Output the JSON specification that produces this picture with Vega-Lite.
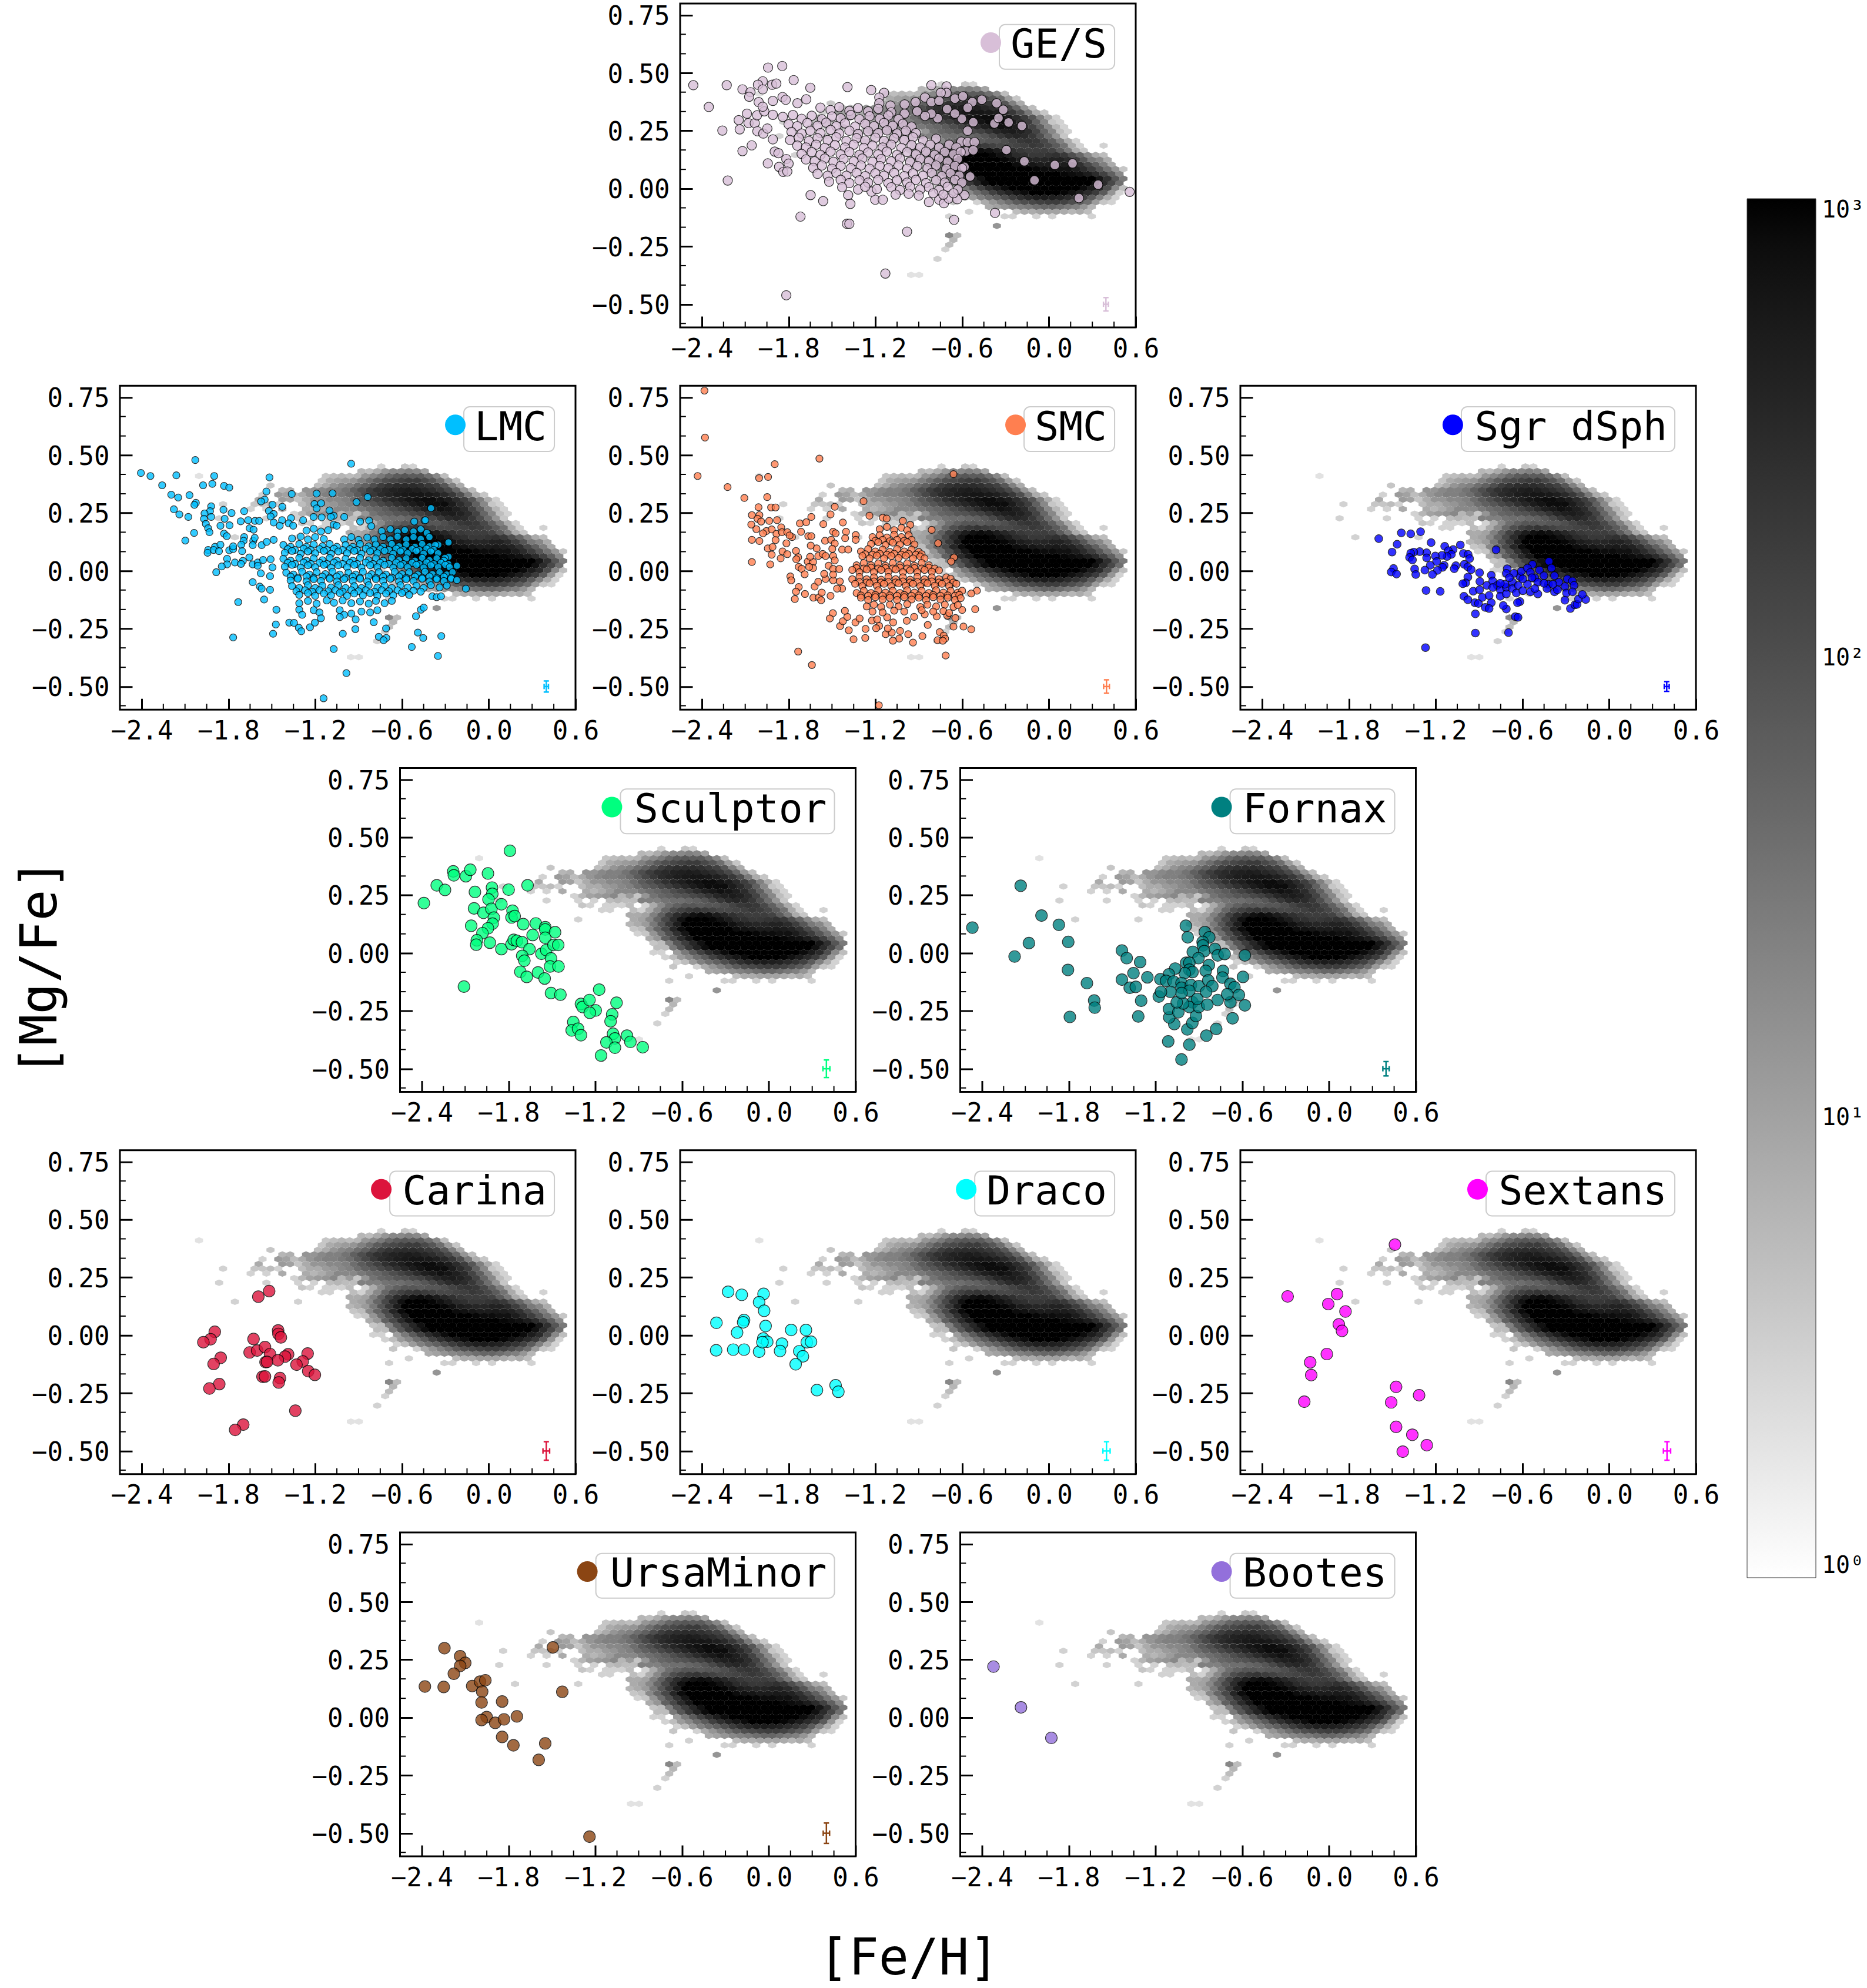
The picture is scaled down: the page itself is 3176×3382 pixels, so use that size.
{"$schema":"https://vega.github.io/schema/vega-lite/v6.json","autosize":{"type":"none"},"padding":{"left":204,"top":6,"right":2972,"bottom":3376},"background":"white","columns":5,"spacing":{"row":99.25,"column":178.5},"bounds":"flush","align":"all",
"config":{"view":{"stroke":null},"axis":{"domain":false,"grid":false,"labelFlush":false,"labelFont":"DejaVu Sans Mono","labelFontSize":44,"labelColor":"black","tickColor":"black","tickWidth":3,"title":null,"titleFont":"DejaVu Sans Mono","titleFontSize":86,"titleFontWeight":"normal"}},
"datasets":{
"mx":[{"v":-2.25},{"v":-2.1},{"v":-1.95},{"v":-1.65},{"v":-1.5},{"v":-1.35},{"v":-1.05},{"v":-0.9},{"v":-0.75},{"v":-0.45},{"v":-0.3},{"v":-0.15},{"v":0.15},{"v":0.3},{"v":0.45}],
"my":[{"v":-0.583},{"v":-0.417},{"v":-0.333},{"v":-0.167},{"v":-0.083},{"v":0.083},{"v":0.167},{"v":0.333},{"v":0.417},{"v":0.583},{"v":0.667}],
"hex":[
{"x":-0.743,"y":0.451,"n":3},{"x":-0.579,"y":0.451,"n":4},{"x":-0.524,"y":0.451,"n":3},
{"x":-0.88,"y":0.431,"n":6},{"x":-0.825,"y":0.431,"n":5},{"x":-0.771,"y":0.431,"n":8},{"x":-0.716,"y":0.431,"n":14},{"x":-0.661,"y":0.431,"n":20},{"x":-0.606,"y":0.431,"n":20},{"x":-0.552,"y":0.431,"n":25},{"x":-0.497,"y":0.431,"n":20},{"x":-0.442,"y":0.431,"n":10},
{"x":-2.003,"y":0.41,"n":2},{"x":-1.126,"y":0.41,"n":4},{"x":-1.072,"y":0.41,"n":5},{"x":-1.017,"y":0.41,"n":6},{"x":-0.962,"y":0.41,"n":5},{"x":-0.907,"y":0.41,"n":6},{"x":-0.853,"y":0.41,"n":14},{"x":-0.798,"y":0.41,"n":20},{"x":-0.743,"y":0.41,"n":30},{"x":-0.689,"y":0.41,"n":50},{"x":-0.634,"y":0.41,"n":70},{"x":-0.579,"y":0.41,"n":80},{"x":-0.524,"y":0.41,"n":70},{"x":-0.47,"y":0.41,"n":70},{"x":-0.415,"y":0.41,"n":40},{"x":-0.36,"y":0.41,"n":20},{"x":-0.306,"y":0.41,"n":5},
{"x":-1.154,"y":0.39,"n":4},{"x":-1.099,"y":0.39,"n":8},{"x":-1.044,"y":0.39,"n":10},{"x":-0.99,"y":0.39,"n":12},{"x":-0.935,"y":0.39,"n":14},{"x":-0.88,"y":0.39,"n":25},{"x":-0.825,"y":0.39,"n":40},{"x":-0.771,"y":0.39,"n":70},{"x":-0.716,"y":0.39,"n":100},{"x":-0.661,"y":0.39,"n":120},{"x":-0.606,"y":0.39,"n":150},{"x":-0.552,"y":0.39,"n":180},{"x":-0.497,"y":0.39,"n":180},{"x":-0.442,"y":0.39,"n":120},{"x":-0.388,"y":0.39,"n":80},{"x":-0.333,"y":0.39,"n":40},{"x":-0.278,"y":0.39,"n":12},{"x":-0.224,"y":0.39,"n":4},
{"x":-1.509,"y":0.369,"n":4},{"x":-1.181,"y":0.369,"n":5},{"x":-1.126,"y":0.369,"n":8},{"x":-1.072,"y":0.369,"n":14},{"x":-1.017,"y":0.369,"n":20},{"x":-0.962,"y":0.369,"n":25},{"x":-0.907,"y":0.369,"n":40},{"x":-0.853,"y":0.369,"n":60},{"x":-0.798,"y":0.369,"n":100},{"x":-0.743,"y":0.369,"n":170},{"x":-0.689,"y":0.369,"n":230},{"x":-0.634,"y":0.369,"n":280},{"x":-0.579,"y":0.369,"n":300},{"x":-0.524,"y":0.369,"n":300},{"x":-0.47,"y":0.369,"n":250},{"x":-0.415,"y":0.369,"n":200},{"x":-0.36,"y":0.369,"n":150},{"x":-0.306,"y":0.369,"n":80},{"x":-0.251,"y":0.369,"n":25},{"x":-0.196,"y":0.369,"n":8},
{"x":-1.427,"y":0.349,"n":6},{"x":-1.373,"y":0.349,"n":7},{"x":-1.263,"y":0.349,"n":14},{"x":-1.208,"y":0.349,"n":14},{"x":-1.154,"y":0.349,"n":20},{"x":-1.099,"y":0.349,"n":25},{"x":-1.044,"y":0.349,"n":25},{"x":-0.99,"y":0.349,"n":35},{"x":-0.935,"y":0.349,"n":60},{"x":-0.88,"y":0.349,"n":100},{"x":-0.825,"y":0.349,"n":170},{"x":-0.771,"y":0.349,"n":250},{"x":-0.716,"y":0.349,"n":320},{"x":-0.661,"y":0.349,"n":400},{"x":-0.606,"y":0.349,"n":450},{"x":-0.552,"y":0.349,"n":500},{"x":-0.497,"y":0.349,"n":450},{"x":-0.442,"y":0.349,"n":350},{"x":-0.388,"y":0.349,"n":280},{"x":-0.333,"y":0.349,"n":200},{"x":-0.278,"y":0.349,"n":120},{"x":-0.224,"y":0.349,"n":50},{"x":-0.169,"y":0.349,"n":14},{"x":-0.114,"y":0.349,"n":5},
{"x":-1.564,"y":0.329,"n":3},{"x":-1.455,"y":0.329,"n":12},{"x":-1.4,"y":0.329,"n":10},{"x":-1.345,"y":0.329,"n":5},{"x":-1.29,"y":0.329,"n":8},{"x":-1.236,"y":0.329,"n":14},{"x":-1.181,"y":0.329,"n":20},{"x":-1.126,"y":0.329,"n":25},{"x":-1.072,"y":0.329,"n":25},{"x":-1.017,"y":0.329,"n":30},{"x":-0.962,"y":0.329,"n":40},{"x":-0.907,"y":0.329,"n":70},{"x":-0.853,"y":0.329,"n":120},{"x":-0.798,"y":0.329,"n":200},{"x":-0.743,"y":0.329,"n":300},{"x":-0.689,"y":0.329,"n":380},{"x":-0.634,"y":0.329,"n":480},{"x":-0.579,"y":0.329,"n":550},{"x":-0.524,"y":0.329,"n":600},{"x":-0.47,"y":0.329,"n":600},{"x":-0.415,"y":0.329,"n":550},{"x":-0.36,"y":0.329,"n":450},{"x":-0.306,"y":0.329,"n":320},{"x":-0.251,"y":0.329,"n":200},{"x":-0.196,"y":0.329,"n":100},{"x":-0.142,"y":0.329,"n":30},{"x":-0.087,"y":0.329,"n":8},{"x":-0.032,"y":0.329,"n":4},
{"x":-1.591,"y":0.308,"n":8},{"x":-1.427,"y":0.308,"n":12},{"x":-1.373,"y":0.308,"n":10},{"x":-1.318,"y":0.308,"n":4},{"x":-1.263,"y":0.308,"n":8},{"x":-1.208,"y":0.308,"n":14},{"x":-1.154,"y":0.308,"n":14},{"x":-1.099,"y":0.308,"n":20},{"x":-1.044,"y":0.308,"n":20},{"x":-0.99,"y":0.308,"n":25},{"x":-0.935,"y":0.308,"n":40},{"x":-0.88,"y":0.308,"n":70},{"x":-0.825,"y":0.308,"n":100},{"x":-0.771,"y":0.308,"n":160},{"x":-0.716,"y":0.308,"n":250},{"x":-0.661,"y":0.308,"n":350},{"x":-0.606,"y":0.308,"n":450},{"x":-0.552,"y":0.308,"n":600},{"x":-0.497,"y":0.308,"n":700},{"x":-0.442,"y":0.308,"n":800},{"x":-0.388,"y":0.308,"n":800},{"x":-0.333,"y":0.308,"n":650},{"x":-0.278,"y":0.308,"n":500},{"x":-0.224,"y":0.308,"n":300},{"x":-0.169,"y":0.308,"n":170},{"x":-0.114,"y":0.308,"n":80},{"x":-0.06,"y":0.308,"n":25},{"x":-0.005,"y":0.308,"n":8},{"x":0.05,"y":0.308,"n":3},
{"x":-1.837,"y":0.288,"n":3},{"x":-1.619,"y":0.288,"n":4},{"x":-1.564,"y":0.288,"n":4},{"x":-1.509,"y":0.288,"n":5},{"x":-1.455,"y":0.288,"n":3},{"x":-1.29,"y":0.288,"n":5},{"x":-1.236,"y":0.288,"n":8},{"x":-1.181,"y":0.288,"n":8},{"x":-1.126,"y":0.288,"n":12},{"x":-1.072,"y":0.288,"n":14},{"x":-1.017,"y":0.288,"n":20},{"x":-0.962,"y":0.288,"n":25},{"x":-0.907,"y":0.288,"n":40},{"x":-0.853,"y":0.288,"n":60},{"x":-0.798,"y":0.288,"n":80},{"x":-0.743,"y":0.288,"n":120},{"x":-0.689,"y":0.288,"n":170},{"x":-0.634,"y":0.288,"n":250},{"x":-0.579,"y":0.288,"n":350},{"x":-0.524,"y":0.288,"n":500},{"x":-0.47,"y":0.288,"n":650},{"x":-0.415,"y":0.288,"n":800},{"x":-0.36,"y":0.288,"n":800},{"x":-0.306,"y":0.288,"n":800},{"x":-0.251,"y":0.288,"n":500},{"x":-0.196,"y":0.288,"n":300},{"x":-0.142,"y":0.288,"n":170},{"x":-0.087,"y":0.288,"n":60},{"x":-0.032,"y":0.288,"n":20},{"x":0.023,"y":0.288,"n":4},{"x":0.077,"y":0.288,"n":3},
{"x":-1.646,"y":0.267,"n":3},{"x":-1.537,"y":0.267,"n":3},{"x":-1.427,"y":0.267,"n":8},{"x":-1.263,"y":0.267,"n":8},{"x":-1.208,"y":0.267,"n":6},{"x":-1.154,"y":0.267,"n":8},{"x":-1.099,"y":0.267,"n":12},{"x":-1.044,"y":0.267,"n":20},{"x":-0.99,"y":0.267,"n":20},{"x":-0.935,"y":0.267,"n":20},{"x":-0.88,"y":0.267,"n":30},{"x":-0.825,"y":0.267,"n":40},{"x":-0.771,"y":0.267,"n":50},{"x":-0.716,"y":0.267,"n":70},{"x":-0.661,"y":0.267,"n":100},{"x":-0.606,"y":0.267,"n":140},{"x":-0.552,"y":0.267,"n":200},{"x":-0.497,"y":0.267,"n":300},{"x":-0.442,"y":0.267,"n":450},{"x":-0.388,"y":0.267,"n":550},{"x":-0.333,"y":0.267,"n":700},{"x":-0.278,"y":0.267,"n":600},{"x":-0.224,"y":0.267,"n":450},{"x":-0.169,"y":0.267,"n":300},{"x":-0.114,"y":0.267,"n":140},{"x":-0.06,"y":0.267,"n":60},{"x":-0.005,"y":0.267,"n":20},{"x":0.05,"y":0.267,"n":6},{"x":0.105,"y":0.267,"n":3},
{"x":-1.345,"y":0.247,"n":3},{"x":-1.29,"y":0.247,"n":6},{"x":-1.236,"y":0.247,"n":10},{"x":-1.181,"y":0.247,"n":12},{"x":-1.126,"y":0.247,"n":14},{"x":-1.072,"y":0.247,"n":20},{"x":-1.017,"y":0.247,"n":6},{"x":-0.962,"y":0.247,"n":12},{"x":-0.907,"y":0.247,"n":4},{"x":-0.853,"y":0.247,"n":14},{"x":-0.798,"y":0.247,"n":35},{"x":-0.743,"y":0.247,"n":50},{"x":-0.689,"y":0.247,"n":60},{"x":-0.634,"y":0.247,"n":80},{"x":-0.579,"y":0.247,"n":90},{"x":-0.524,"y":0.247,"n":120},{"x":-0.47,"y":0.247,"n":150},{"x":-0.415,"y":0.247,"n":220},{"x":-0.36,"y":0.247,"n":350},{"x":-0.306,"y":0.247,"n":450},{"x":-0.251,"y":0.247,"n":500},{"x":-0.196,"y":0.247,"n":420},{"x":-0.142,"y":0.247,"n":280},{"x":-0.087,"y":0.247,"n":140},{"x":-0.032,"y":0.247,"n":50},{"x":0.023,"y":0.247,"n":20},{"x":0.077,"y":0.247,"n":5},{"x":0.132,"y":0.247,"n":3},
{"x":-1.864,"y":0.227,"n":3},{"x":-1.537,"y":0.227,"n":3},{"x":-1.318,"y":0.227,"n":3},{"x":-1.208,"y":0.227,"n":3},{"x":-1.099,"y":0.227,"n":5},{"x":-1.044,"y":0.227,"n":6},{"x":-0.99,"y":0.227,"n":5},{"x":-0.935,"y":0.227,"n":5},{"x":-0.88,"y":0.227,"n":25},{"x":-0.825,"y":0.227,"n":25},{"x":-0.771,"y":0.227,"n":25},{"x":-0.716,"y":0.227,"n":35},{"x":-0.661,"y":0.227,"n":40},{"x":-0.606,"y":0.227,"n":40},{"x":-0.552,"y":0.227,"n":50},{"x":-0.497,"y":0.227,"n":60},{"x":-0.442,"y":0.227,"n":80},{"x":-0.388,"y":0.227,"n":120},{"x":-0.333,"y":0.227,"n":200},{"x":-0.278,"y":0.227,"n":300},{"x":-0.224,"y":0.227,"n":350},{"x":-0.169,"y":0.227,"n":300},{"x":-0.114,"y":0.227,"n":200},{"x":-0.06,"y":0.227,"n":100},{"x":-0.005,"y":0.227,"n":40},{"x":0.05,"y":0.227,"n":14},{"x":0.105,"y":0.227,"n":4},
{"x":-1.29,"y":0.206,"n":4},{"x":-1.236,"y":0.206,"n":3},{"x":-1.126,"y":0.206,"n":3},{"x":-1.072,"y":0.206,"n":3},{"x":-1.017,"y":0.206,"n":3},{"x":-0.962,"y":0.206,"n":5},{"x":-0.853,"y":0.206,"n":3},{"x":-0.798,"y":0.206,"n":8},{"x":-0.743,"y":0.206,"n":20},{"x":-0.689,"y":0.206,"n":40},{"x":-0.634,"y":0.206,"n":60},{"x":-0.579,"y":0.206,"n":80},{"x":-0.524,"y":0.206,"n":80},{"x":-0.47,"y":0.206,"n":70},{"x":-0.415,"y":0.206,"n":80},{"x":-0.36,"y":0.206,"n":80},{"x":-0.306,"y":0.206,"n":100},{"x":-0.251,"y":0.206,"n":140},{"x":-0.196,"y":0.206,"n":200},{"x":-0.142,"y":0.206,"n":220},{"x":-0.087,"y":0.206,"n":200},{"x":-0.032,"y":0.206,"n":120},{"x":0.023,"y":0.206,"n":60},{"x":0.077,"y":0.206,"n":25},{"x":0.132,"y":0.206,"n":8},{"x":0.187,"y":0.206,"n":3},
{"x":-1.154,"y":0.186,"n":3},{"x":-1.099,"y":0.186,"n":3},{"x":-0.935,"y":0.186,"n":5},{"x":-0.88,"y":0.186,"n":3},{"x":-0.825,"y":0.186,"n":8},{"x":-0.771,"y":0.186,"n":20},{"x":-0.716,"y":0.186,"n":50},{"x":-0.661,"y":0.186,"n":100},{"x":-0.606,"y":0.186,"n":150},{"x":-0.552,"y":0.186,"n":200},{"x":-0.497,"y":0.186,"n":220},{"x":-0.442,"y":0.186,"n":180},{"x":-0.388,"y":0.186,"n":150},{"x":-0.333,"y":0.186,"n":120},{"x":-0.278,"y":0.186,"n":120},{"x":-0.224,"y":0.186,"n":140},{"x":-0.169,"y":0.186,"n":160},{"x":-0.114,"y":0.186,"n":200},{"x":-0.06,"y":0.186,"n":170},{"x":-0.005,"y":0.186,"n":120},{"x":0.05,"y":0.186,"n":70},{"x":0.105,"y":0.186,"n":35},{"x":0.159,"y":0.186,"n":8},{"x":0.214,"y":0.186,"n":3},{"x":0.378,"y":0.186,"n":3},
{"x":-0.962,"y":0.165,"n":8},{"x":-0.907,"y":0.165,"n":8},{"x":-0.853,"y":0.165,"n":10},{"x":-0.798,"y":0.165,"n":25},{"x":-0.743,"y":0.165,"n":60},{"x":-0.689,"y":0.165,"n":150},{"x":-0.634,"y":0.165,"n":300},{"x":-0.579,"y":0.165,"n":500},{"x":-0.524,"y":0.165,"n":700},{"x":-0.47,"y":0.165,"n":800},{"x":-0.415,"y":0.165,"n":700},{"x":-0.36,"y":0.165,"n":500},{"x":-0.306,"y":0.165,"n":350},{"x":-0.251,"y":0.165,"n":250},{"x":-0.196,"y":0.165,"n":200},{"x":-0.142,"y":0.165,"n":170},{"x":-0.087,"y":0.165,"n":170},{"x":-0.032,"y":0.165,"n":170},{"x":0.023,"y":0.165,"n":140},{"x":0.077,"y":0.165,"n":70},{"x":0.132,"y":0.165,"n":30},{"x":0.187,"y":0.165,"n":8},{"x":0.241,"y":0.165,"n":4},
{"x":-1.755,"y":0.145,"n":3},{"x":-1.318,"y":0.145,"n":3},{"x":-0.935,"y":0.145,"n":8},{"x":-0.88,"y":0.145,"n":10},{"x":-0.825,"y":0.145,"n":20},{"x":-0.771,"y":0.145,"n":50},{"x":-0.716,"y":0.145,"n":120},{"x":-0.661,"y":0.145,"n":300},{"x":-0.606,"y":0.145,"n":700},{"x":-0.552,"y":0.145,"n":1000},{"x":-0.497,"y":0.145,"n":1000},{"x":-0.442,"y":0.145,"n":1000},{"x":-0.388,"y":0.145,"n":900},{"x":-0.333,"y":0.145,"n":700},{"x":-0.278,"y":0.145,"n":500},{"x":-0.224,"y":0.145,"n":300},{"x":-0.169,"y":0.145,"n":250},{"x":-0.114,"y":0.145,"n":200},{"x":-0.06,"y":0.145,"n":200},{"x":-0.005,"y":0.145,"n":220},{"x":0.05,"y":0.145,"n":250},{"x":0.105,"y":0.145,"n":200},{"x":0.159,"y":0.145,"n":100},{"x":0.214,"y":0.145,"n":50},{"x":0.269,"y":0.145,"n":20},{"x":0.323,"y":0.145,"n":8},{"x":0.378,"y":0.145,"n":5},
{"x":-0.962,"y":0.125,"n":6},{"x":-0.907,"y":0.125,"n":8},{"x":-0.853,"y":0.125,"n":12},{"x":-0.798,"y":0.125,"n":30},{"x":-0.743,"y":0.125,"n":80},{"x":-0.689,"y":0.125,"n":200},{"x":-0.634,"y":0.125,"n":500},{"x":-0.579,"y":0.125,"n":1000},{"x":-0.524,"y":0.125,"n":1000},{"x":-0.47,"y":0.125,"n":1000},{"x":-0.415,"y":0.125,"n":1000},{"x":-0.36,"y":0.125,"n":1000},{"x":-0.306,"y":0.125,"n":900},{"x":-0.251,"y":0.125,"n":700},{"x":-0.196,"y":0.125,"n":500},{"x":-0.142,"y":0.125,"n":400},{"x":-0.087,"y":0.125,"n":350},{"x":-0.032,"y":0.125,"n":350},{"x":0.023,"y":0.125,"n":400},{"x":0.077,"y":0.125,"n":400},{"x":0.132,"y":0.125,"n":300},{"x":0.187,"y":0.125,"n":170},{"x":0.241,"y":0.125,"n":80},{"x":0.296,"y":0.125,"n":30},{"x":0.351,"y":0.125,"n":20},{"x":0.406,"y":0.125,"n":8},
{"x":-0.935,"y":0.104,"n":4},{"x":-0.88,"y":0.104,"n":5},{"x":-0.825,"y":0.104,"n":20},{"x":-0.771,"y":0.104,"n":50},{"x":-0.716,"y":0.104,"n":120},{"x":-0.661,"y":0.104,"n":350},{"x":-0.606,"y":0.104,"n":800},{"x":-0.552,"y":0.104,"n":1000},{"x":-0.497,"y":0.104,"n":1000},{"x":-0.442,"y":0.104,"n":1000},{"x":-0.388,"y":0.104,"n":1000},{"x":-0.333,"y":0.104,"n":1000},{"x":-0.278,"y":0.104,"n":1000},{"x":-0.224,"y":0.104,"n":800},{"x":-0.169,"y":0.104,"n":700},{"x":-0.114,"y":0.104,"n":600},{"x":-0.06,"y":0.104,"n":500},{"x":-0.005,"y":0.104,"n":500},{"x":0.05,"y":0.104,"n":550},{"x":0.105,"y":0.104,"n":500},{"x":0.159,"y":0.104,"n":400},{"x":0.214,"y":0.104,"n":250},{"x":0.269,"y":0.104,"n":120},{"x":0.323,"y":0.104,"n":60},{"x":0.378,"y":0.104,"n":25},{"x":0.433,"y":0.104,"n":8},
{"x":-0.907,"y":0.084,"n":3},{"x":-0.853,"y":0.084,"n":4},{"x":-0.798,"y":0.084,"n":14},{"x":-0.743,"y":0.084,"n":40},{"x":-0.689,"y":0.084,"n":100},{"x":-0.634,"y":0.084,"n":250},{"x":-0.579,"y":0.084,"n":600},{"x":-0.524,"y":0.084,"n":1000},{"x":-0.47,"y":0.084,"n":1000},{"x":-0.415,"y":0.084,"n":1000},{"x":-0.36,"y":0.084,"n":1000},{"x":-0.306,"y":0.084,"n":1000},{"x":-0.251,"y":0.084,"n":1000},{"x":-0.196,"y":0.084,"n":1000},{"x":-0.142,"y":0.084,"n":1000},{"x":-0.087,"y":0.084,"n":900},{"x":-0.032,"y":0.084,"n":800},{"x":0.023,"y":0.084,"n":800},{"x":0.077,"y":0.084,"n":700},{"x":0.132,"y":0.084,"n":700},{"x":0.187,"y":0.084,"n":500},{"x":0.241,"y":0.084,"n":300},{"x":0.296,"y":0.084,"n":170},{"x":0.351,"y":0.084,"n":80},{"x":0.406,"y":0.084,"n":35},{"x":0.46,"y":0.084,"n":14},{"x":0.515,"y":0.084,"n":4},
{"x":-0.825,"y":0.063,"n":8},{"x":-0.771,"y":0.063,"n":14},{"x":-0.716,"y":0.063,"n":60},{"x":-0.661,"y":0.063,"n":120},{"x":-0.606,"y":0.063,"n":300},{"x":-0.552,"y":0.063,"n":600},{"x":-0.497,"y":0.063,"n":1000},{"x":-0.442,"y":0.063,"n":1000},{"x":-0.388,"y":0.063,"n":1000},{"x":-0.333,"y":0.063,"n":1000},{"x":-0.278,"y":0.063,"n":1000},{"x":-0.224,"y":0.063,"n":1000},{"x":-0.169,"y":0.063,"n":1000},{"x":-0.114,"y":0.063,"n":1000},{"x":-0.06,"y":0.063,"n":1000},{"x":-0.005,"y":0.063,"n":1000},{"x":0.05,"y":0.063,"n":1000},{"x":0.105,"y":0.063,"n":900},{"x":0.159,"y":0.063,"n":800},{"x":0.214,"y":0.063,"n":700},{"x":0.269,"y":0.063,"n":500},{"x":0.323,"y":0.063,"n":300},{"x":0.378,"y":0.063,"n":150},{"x":0.433,"y":0.063,"n":60},{"x":0.488,"y":0.063,"n":20},
{"x":-0.798,"y":0.043,"n":4},{"x":-0.743,"y":0.043,"n":5},{"x":-0.689,"y":0.043,"n":25},{"x":-0.634,"y":0.043,"n":80},{"x":-0.579,"y":0.043,"n":170},{"x":-0.524,"y":0.043,"n":350},{"x":-0.47,"y":0.043,"n":700},{"x":-0.415,"y":0.043,"n":1000},{"x":-0.36,"y":0.043,"n":1000},{"x":-0.306,"y":0.043,"n":1000},{"x":-0.251,"y":0.043,"n":1000},{"x":-0.196,"y":0.043,"n":1000},{"x":-0.142,"y":0.043,"n":1000},{"x":-0.087,"y":0.043,"n":1000},{"x":-0.032,"y":0.043,"n":1000},{"x":0.023,"y":0.043,"n":1000},{"x":0.077,"y":0.043,"n":1000},{"x":0.132,"y":0.043,"n":1000},{"x":0.187,"y":0.043,"n":1000},{"x":0.241,"y":0.043,"n":1000},{"x":0.296,"y":0.043,"n":1000},{"x":0.351,"y":0.043,"n":600},{"x":0.406,"y":0.043,"n":250},{"x":0.46,"y":0.043,"n":80},{"x":0.515,"y":0.043,"n":30},
{"x":-0.771,"y":0.023,"n":5},{"x":-0.716,"y":0.023,"n":5},{"x":-0.661,"y":0.023,"n":30},{"x":-0.606,"y":0.023,"n":80},{"x":-0.552,"y":0.023,"n":200},{"x":-0.497,"y":0.023,"n":400},{"x":-0.442,"y":0.023,"n":800},{"x":-0.388,"y":0.023,"n":1000},{"x":-0.333,"y":0.023,"n":1000},{"x":-0.278,"y":0.023,"n":1000},{"x":-0.224,"y":0.023,"n":1000},{"x":-0.169,"y":0.023,"n":1000},{"x":-0.114,"y":0.023,"n":1000},{"x":-0.06,"y":0.023,"n":1000},{"x":-0.005,"y":0.023,"n":1000},{"x":0.05,"y":0.023,"n":1000},{"x":0.105,"y":0.023,"n":1000},{"x":0.159,"y":0.023,"n":1000},{"x":0.214,"y":0.023,"n":1000},{"x":0.269,"y":0.023,"n":1000},{"x":0.323,"y":0.023,"n":700},{"x":0.378,"y":0.023,"n":300},{"x":0.433,"y":0.023,"n":120},{"x":0.488,"y":0.023,"n":40},
{"x":-0.798,"y":0.002,"n":3},{"x":-0.743,"y":0.002,"n":3},{"x":-0.634,"y":0.002,"n":12},{"x":-0.579,"y":0.002,"n":30},{"x":-0.524,"y":0.002,"n":70},{"x":-0.47,"y":0.002,"n":150},{"x":-0.415,"y":0.002,"n":300},{"x":-0.36,"y":0.002,"n":500},{"x":-0.306,"y":0.002,"n":800},{"x":-0.251,"y":0.002,"n":1000},{"x":-0.196,"y":0.002,"n":1000},{"x":-0.142,"y":0.002,"n":1000},{"x":-0.087,"y":0.002,"n":1000},{"x":-0.032,"y":0.002,"n":1000},{"x":0.023,"y":0.002,"n":1000},{"x":0.077,"y":0.002,"n":1000},{"x":0.132,"y":0.002,"n":1000},{"x":0.187,"y":0.002,"n":1000},{"x":0.241,"y":0.002,"n":800},{"x":0.296,"y":0.002,"n":500},{"x":0.351,"y":0.002,"n":300},{"x":0.406,"y":0.002,"n":100},{"x":0.46,"y":0.002,"n":20},{"x":0.515,"y":0.002,"n":5},
{"x":-0.716,"y":-0.018,"n":3},{"x":-0.661,"y":-0.018,"n":5},{"x":-0.606,"y":-0.018,"n":12},{"x":-0.552,"y":-0.018,"n":20},{"x":-0.497,"y":-0.018,"n":40},{"x":-0.442,"y":-0.018,"n":70},{"x":-0.388,"y":-0.018,"n":150},{"x":-0.333,"y":-0.018,"n":250},{"x":-0.278,"y":-0.018,"n":400},{"x":-0.224,"y":-0.018,"n":600},{"x":-0.169,"y":-0.018,"n":800},{"x":-0.114,"y":-0.018,"n":1000},{"x":-0.06,"y":-0.018,"n":1000},{"x":-0.005,"y":-0.018,"n":1000},{"x":0.05,"y":-0.018,"n":1000},{"x":0.105,"y":-0.018,"n":900},{"x":0.159,"y":-0.018,"n":700},{"x":0.214,"y":-0.018,"n":500},{"x":0.269,"y":-0.018,"n":300},{"x":0.323,"y":-0.018,"n":180},{"x":0.378,"y":-0.018,"n":70},{"x":0.433,"y":-0.018,"n":14},{"x":0.488,"y":-0.018,"n":3},
{"x":-0.634,"y":-0.039,"n":3},{"x":-0.579,"y":-0.039,"n":5},{"x":-0.524,"y":-0.039,"n":12},{"x":-0.47,"y":-0.039,"n":25},{"x":-0.415,"y":-0.039,"n":40},{"x":-0.36,"y":-0.039,"n":60},{"x":-0.306,"y":-0.039,"n":100},{"x":-0.251,"y":-0.039,"n":170},{"x":-0.196,"y":-0.039,"n":250},{"x":-0.142,"y":-0.039,"n":350},{"x":-0.087,"y":-0.039,"n":450},{"x":-0.032,"y":-0.039,"n":500},{"x":0.023,"y":-0.039,"n":450},{"x":0.077,"y":-0.039,"n":400},{"x":0.132,"y":-0.039,"n":300},{"x":0.187,"y":-0.039,"n":220},{"x":0.241,"y":-0.039,"n":150},{"x":0.296,"y":-0.039,"n":70},{"x":0.351,"y":-0.039,"n":25},{"x":0.406,"y":-0.039,"n":8},{"x":0.46,"y":-0.039,"n":3},
{"x":-0.661,"y":-0.059,"n":4},{"x":-0.497,"y":-0.059,"n":3},{"x":-0.442,"y":-0.059,"n":8},{"x":-0.388,"y":-0.059,"n":14},{"x":-0.333,"y":-0.059,"n":25},{"x":-0.278,"y":-0.059,"n":40},{"x":-0.224,"y":-0.059,"n":70},{"x":-0.169,"y":-0.059,"n":100},{"x":-0.114,"y":-0.059,"n":120},{"x":-0.06,"y":-0.059,"n":150},{"x":-0.005,"y":-0.059,"n":170},{"x":0.05,"y":-0.059,"n":170},{"x":0.105,"y":-0.059,"n":140},{"x":0.159,"y":-0.059,"n":100},{"x":0.214,"y":-0.059,"n":70},{"x":0.269,"y":-0.059,"n":40},{"x":0.323,"y":-0.059,"n":12},{"x":0.378,"y":-0.059,"n":4},{"x":0.433,"y":-0.059,"n":3},
{"x":-0.415,"y":-0.079,"n":8},{"x":-0.36,"y":-0.079,"n":10},{"x":-0.306,"y":-0.079,"n":14},{"x":-0.251,"y":-0.079,"n":20},{"x":-0.196,"y":-0.079,"n":25},{"x":-0.142,"y":-0.079,"n":30},{"x":-0.087,"y":-0.079,"n":40},{"x":-0.032,"y":-0.079,"n":50},{"x":0.023,"y":-0.079,"n":50},{"x":0.077,"y":-0.079,"n":40},{"x":0.132,"y":-0.079,"n":30},{"x":0.187,"y":-0.079,"n":25},{"x":0.241,"y":-0.079,"n":14},{"x":0.296,"y":-0.079,"n":6},
{"x":-0.552,"y":-0.1,"n":3},{"x":-0.224,"y":-0.1,"n":5},{"x":-0.169,"y":-0.1,"n":8},{"x":-0.114,"y":-0.1,"n":8},{"x":-0.06,"y":-0.1,"n":10},{"x":-0.005,"y":-0.1,"n":10},{"x":0.05,"y":-0.1,"n":10},{"x":0.105,"y":-0.1,"n":8},{"x":0.159,"y":-0.1,"n":6},{"x":0.214,"y":-0.1,"n":8},{"x":0.269,"y":-0.1,"n":5},
{"x":-0.689,"y":-0.12,"n":3},{"x":-0.306,"y":-0.12,"n":3},{"x":-0.251,"y":-0.12,"n":3},{"x":-0.087,"y":-0.12,"n":3},{"x":0.023,"y":-0.12,"n":3},{"x":0.296,"y":-0.12,"n":3},
{"x":-0.36,"y":-0.161,"n":14},{"x":-0.689,"y":-0.202,"n":20},{"x":-0.634,"y":-0.202,"n":5},{"x":-0.661,"y":-0.222,"n":6},{"x":-0.689,"y":-0.243,"n":5},{"x":-0.716,"y":-0.263,"n":3},{"x":-0.771,"y":-0.304,"n":3},{"x":-0.953,"y":-0.373,"n":2},{"x":-0.898,"y":-0.373,"n":2}
],
"GES":[
{"x":-2.459,"y":0.447},{"x":-2.228,"y":0.447},{"x":-2.352,"y":0.353},{"x":-2.258,"y":0.251},{"x":-2.138,"y":0.256},{"x":-2.119,"y":0.429},{"x":-2.064,"y":0.417},{"x":-2.073,"y":0.397},{"x":-1.942,"y":0.523},{"x":-1.844,"y":0.53},{"x":-1.979,"y":0.464},{"x":-2.012,"y":0.449},{"x":-1.979,"y":0.429},{"x":-1.914,"y":0.449},{"x":-1.885,"y":0.454},{"x":-1.765,"y":0.469},{"x":-1.65,"y":0.436},{"x":-1.393,"y":0.439},{"x":-1.229,"y":0.426},{"x":-1.14,"y":0.414},{"x":-1.842,"y":0.396},{"x":-1.82,"y":0.384},{"x":-2.007,"y":0.374},{"x":-1.909,"y":0.379},{"x":-1.678,"y":0.386},{"x":-1.739,"y":0.369},{"x":-2.088,"y":0.324},{"x":-2.145,"y":0.296},{"x":-2.077,"y":0.283},{"x":-2.034,"y":0.283},{"x":-2.018,"y":0.317},{"x":-1.968,"y":0.334},{"x":-1.979,"y":0.354},{"x":-1.909,"y":0.319},{"x":-2.016,"y":0.248},{"x":-1.975,"y":0.238},{"x":-1.947,"y":0.26},{"x":-2.055,"y":0.187},{"x":-2.119,"y":0.162},{"x":-1.909,"y":0.213},{"x":-1.896,"y":0.16},{"x":-1.87,"y":0.153},{"x":-1.816,"y":0.128},{"x":-1.944,"y":0.109},{"x":-1.866,"y":0.094},{"x":-1.8,"y":0.108},{"x":-1.837,"y":0.072},{"x":-1.809,"y":0.074},{"x":-2.221,"y":0.035},{"x":-1.648,"y":-0.028},{"x":-1.561,"y":-0.054},{"x":-1.718,"y":-0.121},{"x":-1.388,"y":-0.028},{"x":-1.373,"y":-0.066},{"x":-1.397,"y":-0.152},{"x":-1.38,"y":-0.152},{"x":-0.981,"y":-0.186},{"x":-0.656,"y":-0.135},{"x":-1.131,"y":-0.367},{"x":-1.816,"y":-0.461},{"x":-0.373,"y":-0.105},{"x":0.207,"y":-0.041},{"x":0.558,"y":-0.014},{"x":0.34,"y":0.017},{"x":0.163,"y":0.109},{"x":0.041,"y":0.102},{"x":-0.1,"y":0.036},{"x":-0.17,"y":0.118},{"x":-0.294,"y":0.167},{"x":-0.187,"y":0.271},{"x":-0.279,"y":0.286},{"x":-0.377,"y":0.281},{"x":-0.349,"y":0.305},{"x":-0.362,"y":0.369},{"x":-0.316,"y":0.341},{"x":-0.523,"y":0.287},{"x":-0.602,"y":0.302},{"x":-0.562,"y":0.25},{"x":-0.606,"y":0.203},{"x":-0.562,"y":0.201},{"x":-0.514,"y":0.201},{"x":-0.573,"y":0.161},{"x":-0.523,"y":0.166},{"x":-0.545,"y":0.052},{"x":-0.584,"y":0.094},{"x":-0.584,"y":-0.028},{"x":-0.83,"y":-0.058},{"x":-0.759,"y":-0.048},{"x":-0.726,"y":-0.063},{"x":-0.693,"y":-0.043},{"x":-0.634,"y":-0.046},{"x":-1.201,"y":-0.048},{"x":-1.149,"y":-0.048},{"x":-1.227,"y":-0.013},{"x":-0.813,"y":0.447},{"x":-0.708,"y":0.442},{"x":-0.708,"y":0.414},{"x":-0.748,"y":0.414},{"x":-0.857,"y":0.394},{"x":-0.813,"y":0.374},{"x":-0.759,"y":0.379},{"x":-0.704,"y":0.344},{"x":-0.65,"y":0.389},{"x":-0.595,"y":0.399},{"x":-0.53,"y":0.374},{"x":-0.464,"y":0.384},{"x":-0.562,"y":0.349},{"x":-0.65,"y":0.324},{"x":-0.769,"y":0.304},{"x":-0.813,"y":0.324},{"x":-0.857,"y":0.314},{"x":-0.911,"y":0.334},{"x":-0.998,"y":0.364},{"x":-0.998,"y":0.324},{"x":-0.922,"y":0.374},{"x":-1.096,"y":0.359},{"x":-1.173,"y":0.394},{"x":-1.173,"y":0.369},
{"x":-1.58,"y":0.35},{"x":-1.51,"y":0.34},{"x":-1.45,"y":0.352},{"x":-1.38,"y":0.336},{"x":-1.32,"y":0.348},{"x":-1.25,"y":0.334},{"x":-1.18,"y":0.345},{"x":-1.09,"y":0.33},
{"x":-1.84,"y":0.31},{"x":-1.77,"y":0.318},{"x":-1.71,"y":0.302},{"x":-1.64,"y":0.315},{"x":-1.57,"y":0.3},{"x":-1.5,"y":0.312},{"x":-1.44,"y":0.304},{"x":-1.37,"y":0.318},{"x":-1.31,"y":0.3},{"x":-1.24,"y":0.313},{"x":-1.17,"y":0.302},{"x":-1.11,"y":0.316},{"x":-1.04,"y":0.3},
{"x":-1.8,"y":0.278},{"x":-1.74,"y":0.27},{"x":-1.67,"y":0.284},{"x":-1.6,"y":0.272},{"x":-1.54,"y":0.285},{"x":-1.47,"y":0.27},{"x":-1.41,"y":0.282},{"x":-1.34,"y":0.268},{"x":-1.27,"y":0.28},{"x":-1.21,"y":0.27},{"x":-1.14,"y":0.284},{"x":-1.08,"y":0.272},{"x":-1.01,"y":0.28},{"x":-0.95,"y":0.268},
{"x":-1.78,"y":0.245},{"x":-1.71,"y":0.238},{"x":-1.65,"y":0.25},{"x":-1.58,"y":0.24},{"x":-1.51,"y":0.254},{"x":-1.45,"y":0.238},{"x":-1.38,"y":0.25},{"x":-1.32,"y":0.236},{"x":-1.25,"y":0.248},{"x":-1.18,"y":0.24},{"x":-1.12,"y":0.252},{"x":-1.05,"y":0.238},{"x":-0.99,"y":0.25},{"x":-0.92,"y":0.24},
{"x":-1.79,"y":0.21},{"x":-1.73,"y":0.22},{"x":-1.66,"y":0.206},{"x":-1.6,"y":0.218},{"x":-1.53,"y":0.21},{"x":-1.47,"y":0.222},{"x":-1.4,"y":0.206},{"x":-1.33,"y":0.218},{"x":-1.27,"y":0.208},{"x":-1.2,"y":0.22},{"x":-1.14,"y":0.206},{"x":-1.07,"y":0.218},{"x":-1.0,"y":0.21},{"x":-0.94,"y":0.222},{"x":-0.87,"y":0.208},{"x":-0.78,"y":0.216},
{"x":-1.74,"y":0.186},{"x":-1.68,"y":0.178},{"x":-1.61,"y":0.19},{"x":-1.55,"y":0.176},{"x":-1.48,"y":0.188},{"x":-1.41,"y":0.178},{"x":-1.35,"y":0.19},{"x":-1.28,"y":0.176},{"x":-1.22,"y":0.186},{"x":-1.15,"y":0.178},{"x":-1.09,"y":0.19},{"x":-1.02,"y":0.176},{"x":-0.95,"y":0.188},{"x":-0.89,"y":0.178},{"x":-0.82,"y":0.19},{"x":-0.76,"y":0.178},{"x":-0.69,"y":0.19},{"x":-0.64,"y":0.178},
{"x":-1.71,"y":0.15},{"x":-1.64,"y":0.158},{"x":-1.58,"y":0.146},{"x":-1.51,"y":0.16},{"x":-1.44,"y":0.148},{"x":-1.38,"y":0.158},{"x":-1.31,"y":0.146},{"x":-1.25,"y":0.156},{"x":-1.18,"y":0.148},{"x":-1.12,"y":0.16},{"x":-1.05,"y":0.146},{"x":-0.98,"y":0.158},{"x":-0.92,"y":0.148},{"x":-0.85,"y":0.16},{"x":-0.79,"y":0.146},{"x":-0.72,"y":0.158},{"x":-0.66,"y":0.148},{"x":-0.61,"y":0.158},
{"x":-1.68,"y":0.126},{"x":-1.62,"y":0.118},{"x":-1.55,"y":0.13},{"x":-1.49,"y":0.116},{"x":-1.42,"y":0.128},{"x":-1.35,"y":0.118},{"x":-1.29,"y":0.13},{"x":-1.22,"y":0.116},{"x":-1.16,"y":0.128},{"x":-1.09,"y":0.118},{"x":-1.03,"y":0.13},{"x":-0.96,"y":0.116},{"x":-0.89,"y":0.128},{"x":-0.83,"y":0.118},{"x":-0.76,"y":0.13},{"x":-0.7,"y":0.116},{"x":-0.63,"y":0.128},
{"x":-1.63,"y":0.09},{"x":-1.57,"y":0.1},{"x":-1.5,"y":0.086},{"x":-1.44,"y":0.098},{"x":-1.37,"y":0.088},{"x":-1.3,"y":0.1},{"x":-1.24,"y":0.086},{"x":-1.17,"y":0.098},{"x":-1.11,"y":0.088},{"x":-1.04,"y":0.1},{"x":-0.98,"y":0.086},{"x":-0.91,"y":0.098},{"x":-0.84,"y":0.088},{"x":-0.78,"y":0.1},{"x":-0.71,"y":0.086},{"x":-0.65,"y":0.098},{"x":-0.6,"y":0.088},
{"x":-1.6,"y":0.064},{"x":-1.53,"y":0.056},{"x":-1.47,"y":0.068},{"x":-1.4,"y":0.056},{"x":-1.33,"y":0.068},{"x":-1.27,"y":0.054},{"x":-1.2,"y":0.066},{"x":-1.14,"y":0.056},{"x":-1.07,"y":0.068},{"x":-1.0,"y":0.054},{"x":-0.94,"y":0.066},{"x":-0.87,"y":0.056},{"x":-0.81,"y":0.068},{"x":-0.74,"y":0.054},{"x":-0.68,"y":0.066},{"x":-0.62,"y":0.056},
{"x":-1.52,"y":0.03},{"x":-1.44,"y":0.038},{"x":-1.38,"y":0.024},{"x":-1.31,"y":0.036},{"x":-1.25,"y":0.026},{"x":-1.18,"y":0.038},{"x":-1.11,"y":0.024},{"x":-1.05,"y":0.036},{"x":-0.98,"y":0.026},{"x":-0.92,"y":0.038},{"x":-0.85,"y":0.024},{"x":-0.78,"y":0.036},{"x":-0.72,"y":0.026},{"x":-0.65,"y":0.038},{"x":-0.6,"y":0.026},
{"x":-1.43,"y":0.006},{"x":-1.32,"y":-0.004},{"x":-1.27,"y":0.008},{"x":-1.19,"y":-0.002},{"x":-1.09,"y":0.006},{"x":-1.03,"y":-0.006},{"x":-0.96,"y":0.008},{"x":-0.89,"y":-0.004},{"x":-0.83,"y":0.006},{"x":-0.76,"y":-0.006},{"x":-0.7,"y":0.008},{"x":-0.63,"y":-0.004},
{"x":-1.06,"y":-0.026},{"x":-0.97,"y":-0.022},{"x":-0.9,"y":-0.03},{"x":-0.8,"y":-0.02},{"x":-0.73,"y":-0.026},{"x":-0.66,"y":-0.02}
],
"LMC":[
{"x":-2.405,"y":0.423},{"x":-2.339,"y":0.41},{"x":-2.16,"y":0.413},{"x":-2.258,"y":0.37},{"x":-2.029,"y":0.479},{"x":-1.898,"y":0.41},{"x":-1.975,"y":0.37},{"x":-1.911,"y":0.376},{"x":-1.83,"y":0.367},{"x":-1.794,"y":0.36},{"x":-2.195,"y":0.329},{"x":-2.147,"y":0.317},{"x":-2.069,"y":0.327},{"x":-2.025,"y":0.294},{"x":-2.035,"y":0.285},{"x":-2.177,"y":0.266},{"x":-2.139,"y":0.244},{"x":-2.077,"y":0.233},{"x":-1.919,"y":0.279},{"x":-1.927,"y":0.258},{"x":-1.965,"y":0.248},{"x":-1.919,"y":0.233},{"x":-1.969,"y":0.225},{"x":-1.834,"y":0.264},{"x":-1.778,"y":0.25},{"x":-1.691,"y":0.258},{"x":-1.826,"y":0.225},{"x":-1.956,"y":0.203},{"x":-1.855,"y":0.195},{"x":-1.792,"y":0.197},{"x":-1.94,"y":0.184},{"x":-1.931,"y":0.167},{"x":-2.037,"y":0.164},{"x":-2.098,"y":0.131},{"x":-1.83,"y":0.161},{"x":-1.811,"y":0.15},{"x":-1.715,"y":0.214},{"x":-1.663,"y":0.219},{"x":-1.616,"y":0.216},{"x":-1.587,"y":0.216},{"x":-1.653,"y":0.184},{"x":-1.626,"y":0.178},{"x":-1.516,"y":0.404},{"x":-1.537,"y":0.343},{"x":-1.549,"y":0.308},{"x":-1.574,"y":0.3},{"x":-1.495,"y":0.286},{"x":-1.427,"y":0.277},{"x":-1.52,"y":0.259},{"x":-1.487,"y":0.246},{"x":-1.508,"y":0.235},{"x":-1.487,"y":0.209},{"x":-1.362,"y":0.332},{"x":-1.19,"y":0.334},{"x":-1.08,"y":0.335},{"x":-1.205,"y":0.289},{"x":-1.159,"y":0.292},{"x":-1.19,"y":0.27},{"x":-1.101,"y":0.261},{"x":-1.072,"y":0.238},{"x":-0.999,"y":0.233},{"x":-1.092,"y":0.233},{"x":-0.951,"y":0.463},{"x":-0.837,"y":0.319},{"x":-0.914,"y":0.297},{"x":-0.399,"y":0.271},{"x":-0.444,"y":0.218},{"x":-0.515,"y":0.213},{"x":-0.889,"y":0.213},{"x":-0.827,"y":0.217},{"x":-0.812,"y":0.193},{"x":-1.072,"y":0.2},{"x":-1.051,"y":0.195},{"x":-1.367,"y":0.228},{"x":-1.383,"y":0.205},{"x":-1.211,"y":0.233},{"x":-1.155,"y":0.231},{"x":-1.283,"y":0.219},{"x":-1.429,"y":0.219},{"x":-1.445,"y":0.195},{"x":-1.352,"y":0.195},{"x":-1.691,"y":0.146},{"x":-1.628,"y":0.13},{"x":-1.618,"y":0.143},{"x":-1.695,"y":0.13},{"x":-1.711,"y":0.113},{"x":-1.892,"y":0.104},{"x":-1.855,"y":0.113},{"x":-1.94,"y":0.09},{"x":-1.944,"y":0.078},{"x":-1.902,"y":0.09},{"x":-1.865,"y":0.085},{"x":-1.794,"y":0.089},{"x":-1.767,"y":0.094},{"x":-1.767,"y":0.106},{"x":-1.705,"y":0.085},{"x":-1.809,"y":0.052},{"x":-1.809,"y":0.028},{"x":-1.755,"y":0.036},{"x":-1.846,"y":0.019},{"x":-1.884,"y":-0.006},{"x":-1.7,"y":0.043},{"x":-1.713,"y":0.03},{"x":-1.655,"y":0.058},{"x":-1.632,"y":0.028},{"x":-1.597,"y":0.036},{"x":-1.597,"y":0.022},{"x":-1.57,"y":0.111},{"x":-1.632,"y":0.111},{"x":-1.535,"y":0.125},{"x":-1.487,"y":0.134},{"x":-1.56,"y":0.047},{"x":-1.508,"y":0.05},{"x":-1.495,"y":0.015},{"x":-1.576,"y":-0.011},{"x":-1.512,"y":-0.023},{"x":-1.632,"y":-0.049},{"x":-1.583,"y":-0.068},{"x":-1.57,"y":-0.077},{"x":-1.512,"y":-0.082},{"x":-1.732,"y":-0.135},{"x":-1.553,"y":-0.124},{"x":-1.468,"y":-0.168},{"x":-1.472,"y":-0.232},{"x":-1.767,"y":-0.288},{"x":-1.491,"y":-0.272},{"x":-1.379,"y":-0.224},{"x":-1.346,"y":-0.225},{"x":-1.313,"y":-0.246},{"x":-1.296,"y":-0.261},{"x":-1.236,"y":-0.244},{"x":-1.202,"y":-0.224},{"x":-1.009,"y":-0.272},{"x":-0.922,"y":-0.252},{"x":-1.072,"y":-0.338},{"x":-0.984,"y":-0.442},{"x":-1.142,"y":-0.551},{"x":-0.795,"y":-0.222},{"x":-0.71,"y":-0.249},{"x":-0.76,"y":-0.285},{"x":-0.708,"y":-0.29},{"x":-0.727,"y":-0.3},{"x":-0.49,"y":-0.267},{"x":-0.453,"y":-0.29},{"x":-0.328,"y":-0.282},{"x":-0.532,"y":-0.329},{"x":-0.351,"y":-0.368},{"x":-0.503,"y":-0.196},{"x":-0.469,"y":-0.168},{"x":-0.449,"y":-0.159},{"x":-0.158,"y":-0.077},{"x":-0.22,"y":0.022},{"x":-0.278,"y":0.123},{"x":-0.278,"y":0.061},{"x":-0.303,"y":0.056},{"x":-0.349,"y":0.113},{"x":-0.428,"y":0.164},{"x":-0.438,"y":0.219},
{"x":-0.74,"y":0.172},{"x":-0.68,"y":0.18},{"x":-0.63,"y":0.168},{"x":-0.58,"y":0.176},{"x":-0.52,"y":0.17},{"x":-0.47,"y":0.18},{"x":-1.26,"y":0.174},{"x":-1.21,"y":0.182},{"x":-1.16,"y":0.17},{"x":-1.11,"y":0.176},
{"x":-1.36,"y":0.14},{"x":-1.3,"y":0.148},{"x":-1.25,"y":0.136},{"x":-1.2,"y":0.146},{"x":-1.14,"y":0.138},{"x":-1.0,"y":0.136},{"x":-0.95,"y":0.146},{"x":-0.9,"y":0.134},{"x":-0.84,"y":0.144},{"x":-0.79,"y":0.136},{"x":-0.73,"y":0.146},{"x":-0.68,"y":0.136},{"x":-0.63,"y":0.148},{"x":-0.57,"y":0.136},{"x":-0.52,"y":0.146},{"x":-0.47,"y":0.138},{"x":-0.41,"y":0.146},
{"x":-1.42,"y":0.112},{"x":-1.37,"y":0.104},{"x":-1.31,"y":0.116},{"x":-1.26,"y":0.104},{"x":-1.21,"y":0.114},{"x":-1.15,"y":0.106},{"x":-1.1,"y":0.116},{"x":-1.05,"y":0.104},{"x":-0.99,"y":0.112},{"x":-0.94,"y":0.104},{"x":-0.89,"y":0.116},{"x":-0.83,"y":0.106},{"x":-0.78,"y":0.114},{"x":-0.73,"y":0.104},{"x":-0.67,"y":0.116},{"x":-0.62,"y":0.106},{"x":-0.57,"y":0.114},{"x":-0.51,"y":0.104},{"x":-0.46,"y":0.116},{"x":-0.41,"y":0.106},{"x":-0.37,"y":0.112},
{"x":-1.39,"y":0.094},{"x":-1.34,"y":0.09},{"x":-1.28,"y":0.096},{"x":-1.23,"y":0.09},{"x":-1.17,"y":0.094},{"x":-1.12,"y":0.09},{"x":-1.07,"y":0.096},{"x":-1.01,"y":0.09},{"x":-0.96,"y":0.094},{"x":-0.91,"y":0.09},{"x":-0.85,"y":0.096},{"x":-0.8,"y":0.09},{"x":-0.75,"y":0.094},{"x":-0.69,"y":0.09},{"x":-0.64,"y":0.096},{"x":-0.59,"y":0.09},{"x":-0.53,"y":0.094},{"x":-0.48,"y":0.09},{"x":-0.43,"y":0.096},{"x":-0.38,"y":0.09},
{"x":-1.41,"y":0.078},{"x":-1.36,"y":0.086},{"x":-1.3,"y":0.074},{"x":-1.25,"y":0.084},{"x":-1.2,"y":0.076},{"x":-1.14,"y":0.086},{"x":-1.09,"y":0.074},{"x":-1.04,"y":0.084},{"x":-0.98,"y":0.076},{"x":-0.93,"y":0.086},{"x":-0.88,"y":0.074},{"x":-0.82,"y":0.084},{"x":-0.77,"y":0.076},{"x":-0.72,"y":0.086},{"x":-0.66,"y":0.074},{"x":-0.61,"y":0.084},{"x":-0.56,"y":0.076},{"x":-0.5,"y":0.086},{"x":-0.45,"y":0.074},{"x":-0.4,"y":0.084},{"x":-0.35,"y":0.076},
{"x":-1.42,"y":0.052},{"x":-1.37,"y":0.044},{"x":-1.31,"y":0.056},{"x":-1.26,"y":0.044},{"x":-1.21,"y":0.054},{"x":-1.15,"y":0.046},{"x":-1.1,"y":0.056},{"x":-1.05,"y":0.044},{"x":-0.99,"y":0.052},{"x":-0.94,"y":0.044},{"x":-0.89,"y":0.056},{"x":-0.83,"y":0.046},{"x":-0.78,"y":0.054},{"x":-0.73,"y":0.044},{"x":-0.67,"y":0.056},{"x":-0.62,"y":0.046},{"x":-0.57,"y":0.054},{"x":-0.51,"y":0.044},{"x":-0.46,"y":0.056},{"x":-0.41,"y":0.046},{"x":-0.36,"y":0.054},{"x":-0.31,"y":0.044},
{"x":-1.39,"y":0.035},{"x":-1.34,"y":0.03},{"x":-1.28,"y":0.036},{"x":-1.23,"y":0.03},{"x":-1.17,"y":0.035},{"x":-1.12,"y":0.03},{"x":-1.07,"y":0.036},{"x":-1.01,"y":0.03},{"x":-0.96,"y":0.035},{"x":-0.91,"y":0.03},{"x":-0.85,"y":0.036},{"x":-0.8,"y":0.03},{"x":-0.75,"y":0.035},{"x":-0.69,"y":0.03},{"x":-0.64,"y":0.036},{"x":-0.59,"y":0.03},{"x":-0.53,"y":0.035},{"x":-0.48,"y":0.03},{"x":-0.43,"y":0.036},{"x":-0.38,"y":0.03},{"x":-0.33,"y":0.035},{"x":-0.28,"y":0.03},
{"x":-1.41,"y":0.018},{"x":-1.36,"y":0.026},{"x":-1.3,"y":0.014},{"x":-1.25,"y":0.024},{"x":-1.2,"y":0.016},{"x":-1.14,"y":0.026},{"x":-1.09,"y":0.014},{"x":-1.04,"y":0.024},{"x":-0.98,"y":0.016},{"x":-0.93,"y":0.026},{"x":-0.88,"y":0.014},{"x":-0.82,"y":0.024},{"x":-0.77,"y":0.016},{"x":-0.72,"y":0.026},{"x":-0.66,"y":0.014},{"x":-0.61,"y":0.024},{"x":-0.56,"y":0.016},{"x":-0.5,"y":0.026},{"x":-0.45,"y":0.014},{"x":-0.4,"y":0.024},{"x":-0.35,"y":0.016},{"x":-0.3,"y":0.026},{"x":-0.27,"y":0.016},
{"x":-1.4,"y":-0.008},{"x":-1.35,"y":-0.016},{"x":-1.29,"y":-0.004},{"x":-1.24,"y":-0.016},{"x":-1.19,"y":-0.006},{"x":-1.13,"y":-0.014},{"x":-1.08,"y":-0.004},{"x":-1.03,"y":-0.016},{"x":-0.97,"y":-0.008},{"x":-0.92,"y":-0.016},{"x":-0.87,"y":-0.004},{"x":-0.81,"y":-0.014},{"x":-0.76,"y":-0.006},{"x":-0.71,"y":-0.016},{"x":-0.65,"y":-0.004},{"x":-0.6,"y":-0.014},{"x":-0.55,"y":-0.006},{"x":-0.49,"y":-0.016},{"x":-0.44,"y":-0.004},{"x":-0.39,"y":-0.014},{"x":-0.34,"y":-0.006},{"x":-0.29,"y":-0.016},{"x":-0.25,"y":-0.006},
{"x":-1.37,"y":-0.025},{"x":-1.32,"y":-0.03},{"x":-1.26,"y":-0.024},{"x":-1.21,"y":-0.03},{"x":-1.15,"y":-0.025},{"x":-1.1,"y":-0.03},{"x":-1.05,"y":-0.024},{"x":-0.99,"y":-0.03},{"x":-0.94,"y":-0.025},{"x":-0.89,"y":-0.03},{"x":-0.83,"y":-0.024},{"x":-0.78,"y":-0.03},{"x":-0.73,"y":-0.025},{"x":-0.67,"y":-0.03},{"x":-0.62,"y":-0.024},{"x":-0.57,"y":-0.03},{"x":-0.51,"y":-0.025},{"x":-0.46,"y":-0.03},{"x":-0.41,"y":-0.024},{"x":-0.36,"y":-0.03},{"x":-0.31,"y":-0.025},{"x":-0.26,"y":-0.03},
{"x":-1.37,"y":-0.042},{"x":-1.32,"y":-0.034},{"x":-1.26,"y":-0.046},{"x":-1.21,"y":-0.036},{"x":-1.16,"y":-0.044},{"x":-1.1,"y":-0.034},{"x":-1.05,"y":-0.046},{"x":-1.0,"y":-0.036},{"x":-0.94,"y":-0.044},{"x":-0.89,"y":-0.034},{"x":-0.84,"y":-0.046},{"x":-0.78,"y":-0.036},{"x":-0.73,"y":-0.044},{"x":-0.68,"y":-0.034},{"x":-0.62,"y":-0.046},{"x":-0.57,"y":-0.036},{"x":-0.52,"y":-0.044},{"x":-0.46,"y":-0.034},{"x":-0.41,"y":-0.046},{"x":-0.36,"y":-0.036},{"x":-0.31,"y":-0.044},{"x":-0.26,"y":-0.034},{"x":-0.22,"y":-0.04},
{"x":-1.36,"y":-0.066},{"x":-1.31,"y":-0.074},{"x":-1.25,"y":-0.062},{"x":-1.2,"y":-0.074},{"x":-1.15,"y":-0.064},{"x":-1.09,"y":-0.072},{"x":-1.04,"y":-0.062},{"x":-0.99,"y":-0.074},{"x":-0.93,"y":-0.066},{"x":-0.88,"y":-0.074},{"x":-0.83,"y":-0.062},{"x":-0.77,"y":-0.072},{"x":-0.72,"y":-0.064},{"x":-0.67,"y":-0.074},{"x":-0.61,"y":-0.062},{"x":-0.56,"y":-0.072},{"x":-0.5,"y":-0.064},{"x":-0.45,"y":-0.074},{"x":-0.4,"y":-0.062},{"x":-0.34,"y":-0.072},{"x":-0.29,"y":-0.064},
{"x":-1.33,"y":-0.088},{"x":-1.27,"y":-0.084},{"x":-1.22,"y":-0.09},{"x":-1.17,"y":-0.084},{"x":-1.11,"y":-0.088},{"x":-1.06,"y":-0.084},{"x":-1.01,"y":-0.09},{"x":-0.95,"y":-0.084},{"x":-0.9,"y":-0.088},{"x":-0.85,"y":-0.084},{"x":-0.79,"y":-0.09},{"x":-0.74,"y":-0.084},{"x":-0.69,"y":-0.088},{"x":-0.63,"y":-0.084},{"x":-0.58,"y":-0.09},{"x":-0.52,"y":-0.086},{"x":-0.47,"y":-0.09},
{"x":-1.31,"y":-0.104},{"x":-1.25,"y":-0.096},{"x":-1.2,"y":-0.108},{"x":-1.14,"y":-0.098},{"x":-1.09,"y":-0.106},{"x":-1.03,"y":-0.096},{"x":-0.98,"y":-0.108},{"x":-0.93,"y":-0.098},{"x":-0.87,"y":-0.106},{"x":-0.82,"y":-0.096},{"x":-0.77,"y":-0.108},{"x":-0.71,"y":-0.098},{"x":-0.66,"y":-0.106},{"x":-0.6,"y":-0.096},{"x":-0.55,"y":-0.104},{"x":-0.39,"y":-0.11},{"x":-0.36,"y":-0.114},{"x":-0.33,"y":-0.11},
{"x":-1.31,"y":-0.14},{"x":-1.25,"y":-0.13},{"x":-1.19,"y":-0.142},{"x":-1.12,"y":-0.128},{"x":-1.07,"y":-0.138},{"x":-1.01,"y":-0.128},{"x":-0.95,"y":-0.14},{"x":-0.89,"y":-0.132},{"x":-0.83,"y":-0.142},{"x":-0.78,"y":-0.13},{"x":-0.72,"y":-0.14},{"x":-0.67,"y":-0.13},
{"x":-1.31,"y":-0.168},{"x":-1.21,"y":-0.17},{"x":-1.17,"y":-0.18},{"x":-1.03,"y":-0.17},{"x":-1.0,"y":-0.19},{"x":-0.95,"y":-0.185},{"x":-0.88,"y":-0.176},{"x":-0.82,"y":-0.18},{"x":-0.77,"y":-0.17},{"x":-1.29,"y":-0.19},{"x":-1.16,"y":-0.205},{"x":-1.03,"y":-0.2},{"x":-0.92,"y":-0.21}
],
"SMC":[
{"x":-2.382,"y":0.779},{"x":-2.378,"y":0.576},{"x":-2.429,"y":0.41},{"x":-2.222,"y":0.362},{"x":-2.106,"y":0.315},{"x":-1.896,"y":0.461},{"x":-1.587,"y":0.485},{"x":-2.004,"y":0.401},{"x":-1.942,"y":0.406},{"x":-1.948,"y":0.319},{"x":-2.008,"y":0.275},{"x":-1.921,"y":0.274},{"x":-1.89,"y":0.274},{"x":-2.054,"y":0.241},{"x":-2.002,"y":0.241},{"x":-2.015,"y":0.225},{"x":-1.99,"y":0.213},{"x":-1.934,"y":0.216},{"x":-1.88,"y":0.219},{"x":-2.058,"y":0.2},{"x":-2.023,"y":0.18},{"x":-1.954,"y":0.172},{"x":-1.977,"y":0.162},{"x":-1.917,"y":0.179},{"x":-1.851,"y":0.188},{"x":-1.884,"y":0.16},{"x":-1.846,"y":0.167},{"x":-1.809,"y":0.167},{"x":-1.776,"y":0.146},{"x":-1.793,"y":0.153},{"x":-2.054,"y":0.134},{"x":-2.002,"y":0.129},{"x":-1.89,"y":0.133},{"x":-1.815,"y":0.119},{"x":-1.944,"y":0.097},{"x":-1.911,"y":0.103},{"x":-1.842,"y":0.084},{"x":-1.917,"y":0.07},{"x":-1.809,"y":0.072},{"x":-1.855,"y":0.054},{"x":-2.054,"y":0.038},{"x":-1.927,"y":0.028},{"x":-1.749,"y":0.086},{"x":-1.734,"y":0.059},{"x":-1.747,"y":0.05},{"x":-1.73,"y":0.017},{"x":-1.71,"y":0.009},{"x":-1.689,"y":-0.015},{"x":-1.788,"y":-0.024},{"x":-1.782,"y":-0.041},{"x":-1.73,"y":-0.07},{"x":-1.749,"y":-0.09},{"x":-1.687,"y":-0.1},{"x":-1.757,"y":-0.122},{"x":-1.629,"y":-0.116},{"x":-1.591,"y":-0.115},{"x":-1.575,"y":-0.127},{"x":-1.571,"y":-0.094},{"x":-1.62,"y":-0.068},{"x":-1.595,"y":-0.047},{"x":-1.544,"y":-0.035},{"x":-1.554,"y":-0.013},{"x":-1.51,"y":-0.108},{"x":-1.492,"y":-0.041},{"x":-1.446,"y":-0.046},{"x":-1.43,"y":-0.077},{"x":-1.465,"y":-0.077},{"x":-1.668,"y":0.04},{"x":-1.631,"y":0.038},{"x":-1.631,"y":0.012},{"x":-1.658,"y":0.017},{"x":-1.595,"y":0.064},{"x":-1.564,"y":0.073},{"x":-1.651,"y":0.061},{"x":-1.544,"y":0.064},{"x":-1.492,"y":0.064},{"x":-1.481,"y":0.045},{"x":-1.523,"y":0.022},{"x":-1.492,"y":0.008},{"x":-1.492,"y":-0.016},{"x":-1.45,"y":0.008},{"x":-1.606,"y":0.097},{"x":-1.647,"y":0.109},{"x":-1.548,"y":0.13},{"x":-1.506,"y":0.134},{"x":-1.481,"y":0.118},{"x":-1.498,"y":0.095},{"x":-1.43,"y":0.092},{"x":-1.388,"y":0.092},{"x":-1.664,"y":0.15},{"x":-1.643,"y":0.15},{"x":-1.714,"y":0.169},{"x":-1.492,"y":0.169},{"x":-1.475,"y":0.162},{"x":-1.403,"y":0.169},{"x":-1.409,"y":0.141},{"x":-1.336,"y":0.155},{"x":-1.336,"y":0.134},{"x":-1.722,"y":0.205},{"x":-1.678,"y":0.21},{"x":-1.56,"y":0.202},{"x":-1.425,"y":0.209},{"x":-1.643,"y":0.233},{"x":-1.51,"y":0.244},{"x":-1.481,"y":0.277},{"x":-1.282,"y":0.301},{"x":-1.241,"y":0.238},{"x":-1.149,"y":0.23},{"x":-1.122,"y":0.226},{"x":-1.01,"y":0.216},{"x":-0.959,"y":0.199},{"x":-0.811,"y":0.177},{"x":-0.766,"y":0.119},{"x":-0.66,"y":0.418},{"x":-0.656,"y":0.058},{"x":-0.676,"y":0.04},{"x":-0.498,"y":-0.086},{"x":-0.537,"y":-0.098},{"x":-0.51,"y":-0.166},{"x":-0.6,"y":-0.169},{"x":-0.537,"y":-0.253},{"x":-0.591,"y":-0.241},{"x":-0.66,"y":-0.241},{"x":-0.647,"y":-0.204},{"x":-0.838,"y":-0.234},{"x":-0.755,"y":-0.265},{"x":-0.728,"y":-0.28},{"x":-0.718,"y":-0.293},{"x":-0.77,"y":-0.3},{"x":-0.734,"y":-0.302},{"x":-0.714,"y":-0.366},{"x":-0.875,"y":-0.282},{"x":-0.94,"y":-0.31},{"x":-0.973,"y":-0.274},{"x":-1.035,"y":-0.293},{"x":-1.079,"y":-0.302},{"x":-1.129,"y":-0.274},{"x":-1.029,"y":-0.26},{"x":-1.087,"y":-0.267},{"x":-1.114,"y":-0.249},{"x":-1.174,"y":-0.238},{"x":-1.195,"y":-0.248},{"x":-1.268,"y":-0.251},{"x":-1.27,"y":-0.29},{"x":-1.351,"y":-0.296},{"x":-1.384,"y":-0.257},{"x":-1.444,"y":-0.239},{"x":-1.425,"y":-0.218},{"x":-1.338,"y":-0.223},{"x":-1.309,"y":-0.206},{"x":-1.394,"y":-0.199},{"x":-1.411,"y":-0.173},{"x":-1.494,"y":-0.183},{"x":-1.515,"y":-0.206},{"x":-1.734,"y":-0.349},{"x":-1.639,"y":-0.407},{"x":-1.176,"y":-0.581},{"x":-1.224,"y":-0.215},{"x":-1.187,"y":-0.21},{"x":-1.118,"y":-0.201},{"x":-1.077,"y":-0.223},{"x":-0.983,"y":-0.216},{"x":-0.932,"y":-0.199},{"x":-0.859,"y":-0.188},{"x":-0.776,"y":-0.197},{"x":-0.703,"y":-0.194},
{"x":-1.17,"y":0.18},{"x":-1.12,"y":0.19},{"x":-1.07,"y":0.176},{"x":-1.02,"y":0.186},{"x":-0.98,"y":0.176},
{"x":-1.22,"y":0.146},{"x":-1.17,"y":0.154},{"x":-1.12,"y":0.144},{"x":-1.07,"y":0.156},{"x":-1.02,"y":0.146},{"x":-0.97,"y":0.154},
{"x":-1.2,"y":0.13},{"x":-1.15,"y":0.134},{"x":-1.1,"y":0.128},{"x":-1.05,"y":0.134},{"x":-1.0,"y":0.13},{"x":-0.95,"y":0.134},
{"x":-1.23,"y":0.116},{"x":-1.18,"y":0.124},{"x":-1.13,"y":0.112},{"x":-1.08,"y":0.122},{"x":-1.03,"y":0.114},{"x":-0.98,"y":0.124},{"x":-0.93,"y":0.114},
{"x":-1.3,"y":0.084},{"x":-1.25,"y":0.094},{"x":-1.2,"y":0.084},{"x":-1.15,"y":0.092},{"x":-1.1,"y":0.082},{"x":-1.05,"y":0.094},{"x":-1.0,"y":0.084},{"x":-0.95,"y":0.092},{"x":-0.9,"y":0.082},
{"x":-1.27,"y":0.072},{"x":-1.22,"y":0.07},{"x":-1.17,"y":0.074},{"x":-1.12,"y":0.07},{"x":-1.07,"y":0.074},{"x":-1.02,"y":0.07},{"x":-0.97,"y":0.074},{"x":-0.92,"y":0.07},{"x":-0.88,"y":0.072},
{"x":-1.29,"y":0.064},{"x":-1.24,"y":0.054},{"x":-1.19,"y":0.066},{"x":-1.14,"y":0.054},{"x":-1.09,"y":0.064},{"x":-1.04,"y":0.056},{"x":-0.99,"y":0.066},{"x":-0.94,"y":0.054},{"x":-0.89,"y":0.062},{"x":-0.86,"y":0.054},
{"x":-1.33,"y":0.024},{"x":-1.28,"y":0.034},{"x":-1.23,"y":0.024},{"x":-1.18,"y":0.032},{"x":-1.13,"y":0.022},{"x":-1.08,"y":0.034},{"x":-1.03,"y":0.024},{"x":-0.98,"y":0.032},{"x":-0.93,"y":0.022},{"x":-0.88,"y":0.034},{"x":-0.83,"y":0.024},
{"x":-1.33,"y":0.012},{"x":-1.28,"y":0.01},{"x":-1.23,"y":0.014},{"x":-1.18,"y":0.01},{"x":-1.13,"y":0.012},{"x":-1.08,"y":0.01},{"x":-1.03,"y":0.014},{"x":-0.98,"y":0.01},{"x":-0.93,"y":0.012},{"x":-0.88,"y":0.01},{"x":-0.83,"y":0.014},{"x":-0.79,"y":0.01},
{"x":-1.36,"y":0.004},{"x":-1.31,"y":-0.006},{"x":-1.26,"y":0.006},{"x":-1.21,"y":-0.006},{"x":-1.16,"y":0.004},{"x":-1.11,"y":-0.004},{"x":-1.06,"y":0.006},{"x":-1.01,"y":-0.006},{"x":-0.96,"y":0.002},{"x":-0.91,"y":-0.006},{"x":-0.86,"y":0.004},{"x":-0.81,"y":-0.004},{"x":-0.76,"y":0.002},
{"x":-1.36,"y":-0.036},{"x":-1.31,"y":-0.026},{"x":-1.26,"y":-0.036},{"x":-1.21,"y":-0.028},{"x":-1.16,"y":-0.038},{"x":-1.11,"y":-0.026},{"x":-1.06,"y":-0.036},{"x":-1.01,"y":-0.028},{"x":-0.96,"y":-0.038},{"x":-0.91,"y":-0.026},{"x":-0.86,"y":-0.036},{"x":-0.81,"y":-0.028},{"x":-0.76,"y":-0.036},{"x":-0.71,"y":-0.028},{"x":-0.68,"y":-0.034},
{"x":-1.31,"y":-0.048},{"x":-1.26,"y":-0.05},{"x":-1.21,"y":-0.046},{"x":-1.16,"y":-0.05},{"x":-1.11,"y":-0.048},{"x":-1.06,"y":-0.05},{"x":-1.01,"y":-0.046},{"x":-0.96,"y":-0.05},{"x":-0.91,"y":-0.048},{"x":-0.86,"y":-0.05},{"x":-0.81,"y":-0.046},{"x":-0.76,"y":-0.05},{"x":-0.71,"y":-0.048},{"x":-0.66,"y":-0.05},
{"x":-1.34,"y":-0.056},{"x":-1.29,"y":-0.066},{"x":-1.24,"y":-0.054},{"x":-1.19,"y":-0.064},{"x":-1.14,"y":-0.056},{"x":-1.09,"y":-0.066},{"x":-1.04,"y":-0.054},{"x":-0.99,"y":-0.064},{"x":-0.94,"y":-0.056},{"x":-0.89,"y":-0.066},{"x":-0.84,"y":-0.054},{"x":-0.79,"y":-0.064},{"x":-0.74,"y":-0.056},{"x":-0.69,"y":-0.066},{"x":-0.64,"y":-0.056},
{"x":-1.33,"y":-0.096},{"x":-1.28,"y":-0.086},{"x":-1.23,"y":-0.096},{"x":-1.18,"y":-0.084},{"x":-1.13,"y":-0.094},{"x":-1.08,"y":-0.086},{"x":-1.03,"y":-0.096},{"x":-0.98,"y":-0.084},{"x":-0.93,"y":-0.094},{"x":-0.88,"y":-0.086},{"x":-0.83,"y":-0.096},{"x":-0.78,"y":-0.084},{"x":-0.73,"y":-0.094},{"x":-0.68,"y":-0.086},{"x":-0.63,"y":-0.094},{"x":-0.6,"y":-0.086},
{"x":-1.3,"y":-0.106},{"x":-1.25,"y":-0.108},{"x":-1.2,"y":-0.104},{"x":-1.15,"y":-0.108},{"x":-1.1,"y":-0.106},{"x":-1.05,"y":-0.108},{"x":-1.0,"y":-0.104},{"x":-0.95,"y":-0.108},{"x":-0.9,"y":-0.106},{"x":-0.85,"y":-0.108},{"x":-0.8,"y":-0.104},{"x":-0.75,"y":-0.108},{"x":-0.7,"y":-0.106},{"x":-0.65,"y":-0.108},{"x":-0.62,"y":-0.104},
{"x":-1.3,"y":-0.116},{"x":-1.25,"y":-0.126},{"x":-1.2,"y":-0.114},{"x":-1.15,"y":-0.124},{"x":-1.1,"y":-0.116},{"x":-1.05,"y":-0.126},{"x":-1.0,"y":-0.114},{"x":-0.95,"y":-0.124},{"x":-0.9,"y":-0.116},{"x":-0.85,"y":-0.126},{"x":-0.8,"y":-0.114},{"x":-0.75,"y":-0.124},{"x":-0.7,"y":-0.116},{"x":-0.65,"y":-0.126},{"x":-0.61,"y":-0.118},
{"x":-1.26,"y":-0.154},{"x":-1.21,"y":-0.146},{"x":-1.16,"y":-0.156},{"x":-1.1,"y":-0.146},{"x":-1.04,"y":-0.154},{"x":-0.98,"y":-0.144},{"x":-0.89,"y":-0.156},{"x":-0.84,"y":-0.146},{"x":-0.78,"y":-0.154},{"x":-0.72,"y":-0.146},{"x":-0.66,"y":-0.156},{"x":-0.63,"y":-0.148},
{"x":-1.22,"y":-0.176},{"x":-1.15,"y":-0.18},{"x":-1.07,"y":-0.172},{"x":-1.0,"y":-0.176},{"x":-0.88,"y":-0.17},{"x":-0.8,"y":-0.176},{"x":-0.73,"y":-0.174},{"x":-0.69,"y":-0.182}
],
"Sgr":[
{"x":-1.593,"y":0.139},{"x":-1.437,"y":0.164},{"x":-1.372,"y":0.16},{"x":-1.304,"y":0.169},{"x":-1.466,"y":0.115},{"x":-1.501,"y":0.081},{"x":-1.231,"y":0.122},{"x":-1.029,"y":0.112},{"x":-1.137,"y":0.106},{"x":-1.079,"y":0.092},{"x":-1.112,"y":0.087},{"x":-1.091,"y":0.071},{"x":-1.121,"y":0.062},{"x":-1.156,"y":0.067},{"x":-1.202,"y":0.064},{"x":-1.193,"y":0.04},{"x":-1.262,"y":0.078},{"x":-1.262,"y":0.056},{"x":-1.31,"y":0.083},{"x":-1.351,"y":0.081},{"x":-1.372,"y":0.076},{"x":-1.38,"y":0.058},{"x":-1.36,"y":0.047},{"x":-1.237,"y":0.024},{"x":-1.141,"y":0.024},{"x":-1.152,"y":0.015},{"x":-1.187,"y":0.002},{"x":-1.222,"y":-0.016},{"x":-1.274,"y":0.003},{"x":-1.345,"y":0.008},{"x":-1.337,"y":-0.016},{"x":-1.491,"y":0.01},{"x":-1.507,"y":-0.005},{"x":-1.47,"y":-0.014},{"x":-1.06,"y":0.022},{"x":-1.071,"y":0.009},{"x":-1.008,"y":0.075},{"x":-0.975,"y":0.071},{"x":-0.965,"y":0.053},{"x":-1.002,"y":0.028},{"x":-0.977,"y":0.017},{"x":-0.954,"y":0.005},{"x":-0.896,"y":-0.008},{"x":-0.977,"y":-0.027},{"x":-0.992,"y":-0.052},{"x":-1.012,"y":-0.056},{"x":-0.894,"y":-0.046},{"x":-0.815,"y":-0.019},{"x":-0.782,"y":0.091},{"x":-1.266,"y":-0.085},{"x":-1.168,"y":-0.089},{"x":-0.94,"y":-0.088},{"x":-0.896,"y":-0.082},{"x":-1.004,"y":-0.11},{"x":-0.977,"y":-0.125},{"x":-0.929,"y":-0.138},{"x":-0.904,"y":-0.141},{"x":-0.877,"y":-0.115},{"x":-0.83,"y":-0.107},{"x":-0.815,"y":-0.138},{"x":-0.857,"y":-0.158},{"x":-0.83,"y":-0.163},{"x":-0.925,"y":-0.186},{"x":-0.925,"y":-0.269},{"x":-1.27,"y":-0.332},{"x":-0.696,"y":-0.267},{"x":-0.649,"y":-0.198},{"x":-0.63,"y":-0.201},{"x":-0.617,"y":-0.133},{"x":-0.634,"y":-0.138},{"x":-0.711,"y":-0.165},{"x":-0.732,"y":-0.15},{"x":-0.306,"y":-0.127},{"x":-0.268,"y":-0.163},{"x":-0.237,"y":-0.147},{"x":-0.222,"y":-0.145},{"x":-0.212,"y":-0.122},{"x":-0.162,"y":-0.124},{"x":-0.185,"y":-0.102},{"x":-0.416,"y":0.041},{"x":-0.53,"y":0.028},{"x":-0.705,"y":0.009},{"x":-0.711,"y":-0.011},
{"x":-0.846,"y":-0.063},{"x":-0.805,"y":-0.044},{"x":-0.773,"y":-0.063},{"x":-0.805,"y":-0.072},{"x":-0.753,"y":-0.082},{"x":-0.753,"y":-0.11},{"x":-0.711,"y":-0.072},{"x":-0.711,"y":-0.1},{"x":-0.669,"y":-0.049},{"x":-0.669,"y":-0.077},{"x":-0.642,"y":-0.096},{"x":-0.628,"y":-0.063},{"x":-0.597,"y":-0.086},{"x":-0.617,"y":-0.025},{"x":-0.659,"y":-0.011},{"x":-0.607,"y":-0.002},{"x":-0.565,"y":0.012},{"x":-0.545,"y":-0.007},{"x":-0.514,"y":-0.03},{"x":-0.565,"y":-0.058},{"x":-0.493,"y":-0.049},{"x":-0.493,"y":-0.1},{"x":-0.545,"y":-0.091},{"x":-0.482,"y":0.003},{"x":-0.451,"y":-0.021},{"x":-0.42,"y":-0.058},{"x":-0.43,"y":-0.077},{"x":-0.378,"y":-0.091},{"x":-0.399,"y":0.012},{"x":-0.378,"y":-0.021},{"x":-0.347,"y":-0.049},{"x":-0.358,"y":-0.082},{"x":-0.306,"y":-0.068},{"x":-0.289,"y":-0.035},{"x":-0.254,"y":-0.044},{"x":-0.243,"y":-0.063},{"x":-0.295,"y":-0.096},{"x":-0.254,"y":-0.091},{"x":-0.721,"y":-0.058},{"x":-0.753,"y":-0.054},{"x":-0.69,"y":-0.03},{"x":-0.597,"y":-0.035},{"x":-0.534,"y":-0.03},{"x":-0.451,"y":-0.054},{"x":-0.389,"y":-0.058},{"x":-0.514,"y":-0.077}
],
"Sculptor":[{"x":-2.385,"y":0.216},{"x":-2.296,"y":0.293},{"x":-2.239,"y":0.273},{"x":-2.182,"y":0.353},{"x":-2.178,"y":0.336},{"x":-2.095,"y":0.332},{"x":-2.064,"y":0.36},{"x":-1.942,"y":0.344},{"x":-1.79,"y":0.442},{"x":-2.032,"y":0.264},{"x":-1.914,"y":0.283},{"x":-1.912,"y":0.256},{"x":-1.938,"y":0.232},{"x":-1.799,"y":0.274},{"x":-1.668,"y":0.293},{"x":-2.038,"y":0.193},{"x":-1.973,"y":0.174},{"x":-1.918,"y":0.191},{"x":-1.849,"y":0.211},{"x":-1.901,"y":0.153},{"x":-1.91,"y":0.127},{"x":-2.058,"y":0.118},{"x":-1.942,"y":0.107},{"x":-1.98,"y":0.086},{"x":-2.019,"y":0.055},{"x":-2.023,"y":0.036},{"x":-1.929,"y":0.045},{"x":-1.772,"y":0.183},{"x":-1.779,"y":0.154},{"x":-1.757,"y":0.16},{"x":-1.698,"y":0.125},{"x":-1.611,"y":0.128},{"x":-1.546,"y":0.112},{"x":-1.546,"y":0.102},{"x":-1.478,"y":0.09},{"x":-1.633,"y":0.078},{"x":-1.546,"y":0.066},{"x":-1.849,"y":0.017},{"x":-1.779,"y":0.038},{"x":-1.764,"y":0.057},{"x":-1.742,"y":0.053},{"x":-1.707,"y":0.047},{"x":-1.655,"y":0.017},{"x":-1.705,"y":-0.012},{"x":-1.69,"y":-0.033},{"x":-1.572,"y":-0.003},{"x":-1.539,"y":0.013},{"x":-1.489,"y":0.035},{"x":-1.456,"y":0.035},{"x":-1.506,"y":-0.023},{"x":-1.513,"y":-0.058},{"x":-1.454,"y":-0.058},{"x":-1.718,"y":-0.081},{"x":-1.674,"y":-0.103},{"x":-1.596,"y":-0.084},{"x":-1.55,"y":-0.11},{"x":-2.108,"y":-0.145},{"x":-1.506,"y":-0.173},{"x":-1.441,"y":-0.18},{"x":-1.173,"y":-0.158},{"x":-1.299,"y":-0.22},{"x":-1.288,"y":-0.233},{"x":-1.24,"y":-0.203},{"x":-1.197,"y":-0.248},{"x":-1.238,"y":-0.258},{"x":-1.053,"y":-0.215},{"x":-1.083,"y":-0.265},{"x":-1.094,"y":-0.295},{"x":-1.352,"y":-0.298},{"x":-1.363,"y":-0.334},{"x":-1.319,"y":-0.327},{"x":-1.299,"y":-0.355},{"x":-1.077,"y":-0.349},{"x":-1.064,"y":-0.369},{"x":-0.981,"y":-0.357},{"x":-0.957,"y":-0.384},{"x":-1.123,"y":-0.386},{"x":-1.064,"y":-0.409},{"x":-0.872,"y":-0.407},{"x":-1.16,"y":-0.443}],
"Fornax":[{"x":-2.466,"y":0.11},{"x":-2.132,"y":0.291},{"x":-1.988,"y":0.162},{"x":-1.868,"y":0.122},{"x":-2.075,"y":0.043},{"x":-2.174,"y":-0.015},{"x":-1.803,"y":0.048},{"x":-1.805,"y":-0.073},{"x":-1.674,"y":-0.13},{"x":-1.624,"y":-0.205},{"x":-1.62,"y":-0.236},{"x":-1.792,"y":-0.276},{"x":-1.432,"y":0.011},{"x":-1.399,"y":-0.022},{"x":-1.306,"y":-0.039},{"x":-1.352,"y":-0.087},{"x":-1.432,"y":-0.115},{"x":-1.256,"y":-0.105},{"x":-1.378,"y":-0.15},{"x":-1.336,"y":-0.146},{"x":-1.299,"y":-0.206},{"x":-1.319,"y":-0.274},{"x":-1.177,"y":-0.188},{"x":-0.99,"y":0.118},{"x":-0.977,"y":0.068},{"x":-0.859,"y":0.091},{"x":-0.828,"y":0.068},{"x":-0.874,"y":0.048},{"x":-0.872,"y":0.033},{"x":-0.863,"y":0.008},{"x":-0.942,"y":0.005},{"x":-0.903,"y":-0.022},{"x":-0.789,"y":0.018},{"x":-0.77,"y":-0.01},{"x":-0.722,"y":-0.004},{"x":-0.582,"y":-0.01},{"x":-0.595,"y":-0.103},{"x":-0.831,"y":-0.052},{"x":-0.853,"y":-0.077},{"x":-0.733,"y":-0.077},{"x":-0.737,"y":-0.106},{"x":-0.682,"y":-0.133},{"x":-0.654,"y":-0.148},{"x":-0.623,"y":-0.181},{"x":-0.582,"y":-0.226},{"x":-0.667,"y":-0.282},{"x":-0.78,"y":-0.328},{"x":-0.848,"y":-0.357},{"x":-0.966,"y":-0.396},{"x":-1.112,"y":-0.382},{"x":-1.02,"y":-0.46},{"x":-1.07,"y":-0.307},{"x":-1.105,"y":-0.278},{"x":-0.98,"y":-0.33},{"x":-0.945,"y":-0.302},{"x":-0.92,"y":-0.272},{"x":-1.107,"y":-0.242},{"x":-1.042,"y":-0.256},{"x":-0.988,"y":-0.042},{"x":-0.966,"y":-0.042},{"x":-0.966,"y":-0.072},{"x":-0.944,"y":-0.082},{"x":-0.998,"y":-0.087},{"x":-1.064,"y":-0.067},{"x":-1.107,"y":-0.092},{"x":-1.166,"y":-0.113},{"x":-1.127,"y":-0.12},{"x":-1.075,"y":-0.123},{"x":-1.02,"y":-0.13},{"x":-1.02,"y":-0.15},{"x":-0.955,"y":-0.138},{"x":-0.9,"y":-0.143},{"x":-0.835,"y":-0.118},{"x":-0.807,"y":-0.143},{"x":-0.85,"y":-0.168},{"x":-0.77,"y":-0.203},{"x":-0.682,"y":-0.213},{"x":-0.704,"y":-0.178},{"x":-0.944,"y":-0.213},{"x":-0.966,"y":-0.233},{"x":-1.009,"y":-0.218},{"x":-1.053,"y":-0.213},{"x":-0.9,"y":-0.233},{"x":-0.842,"y":-0.223},{"x":-0.966,"y":-0.163},{"x":-1.02,"y":-0.173},{"x":-1.097,"y":-0.168},{"x":-1.162,"y":-0.168},{"x":-0.911,"y":-0.198}],
"Carina":[{"x":-1.894,"y":0.015},{"x":-1.923,"y":-0.017},{"x":-1.973,"y":-0.03},{"x":-1.626,"y":-0.016},{"x":-1.456,"y":0.021},{"x":-1.454,"y":0.006},{"x":-1.437,"y":-0.009},{"x":-1.653,"y":-0.074},{"x":-1.601,"y":-0.066},{"x":-1.547,"y":-0.051},{"x":-1.512,"y":-0.081},{"x":-1.387,"y":-0.082},{"x":-1.408,"y":-0.092},{"x":-1.458,"y":-0.108},{"x":-1.543,"y":-0.116},{"x":-1.533,"y":-0.115},{"x":-1.252,"y":-0.079},{"x":-1.286,"y":-0.113},{"x":-1.329,"y":-0.127},{"x":-1.248,"y":-0.155},{"x":-1.202,"y":-0.171},{"x":-1.853,"y":-0.097},{"x":-1.902,"y":-0.124},{"x":-1.863,"y":-0.211},{"x":-1.931,"y":-0.23},{"x":-1.564,"y":-0.179},{"x":-1.547,"y":-0.178},{"x":-1.443,"y":-0.185},{"x":-1.452,"y":-0.204},{"x":-1.337,"y":-0.326},{"x":-1.697,"y":-0.386},{"x":-1.753,"y":-0.409},{"x":-1.518,"y":0.191},{"x":-1.593,"y":0.167}],
"Draco":[{"x":-2.218,"y":0.188},{"x":-2.124,"y":0.175},{"x":-1.973,"y":0.179},{"x":-2.004,"y":0.143},{"x":-1.969,"y":0.106},{"x":-2.299,"y":0.054},{"x":-2.108,"y":0.066},{"x":-2.114,"y":0.056},{"x":-1.959,"y":0.04},{"x":-2.156,"y":0.012},{"x":-1.782,"y":0.023},{"x":-1.68,"y":0.023},{"x":-2.301,"y":-0.065},{"x":-2.183,"y":-0.062},{"x":-2.108,"y":-0.062},{"x":-2.004,"y":-0.071},{"x":-1.975,"y":-0.014},{"x":-1.948,"y":-0.028},{"x":-1.981,"y":-0.03},{"x":-1.846,"y":-0.036},{"x":-1.859,"y":-0.068},{"x":-1.674,"y":-0.03},{"x":-1.645,"y":-0.028},{"x":-1.726,"y":-0.069},{"x":-1.701,"y":-0.091},{"x":-1.751,"y":-0.125},{"x":-1.604,"y":-0.237},{"x":-1.475,"y":-0.216},{"x":-1.456,"y":-0.244}],
"Sextans":[{"x":-2.223,"y":0.168},{"x":-1.881,"y":0.178},{"x":-1.942,"y":0.135},{"x":-1.823,"y":0.103},{"x":-1.869,"y":0.047},{"x":-1.847,"y":0.019},{"x":-1.952,"y":-0.081},{"x":-2.067,"y":-0.117},{"x":-2.06,"y":-0.172},{"x":-2.108,"y":-0.287},{"x":-1.481,"y":0.392},{"x":-1.473,"y":-0.223},{"x":-1.314,"y":-0.259},{"x":-1.507,"y":-0.29},{"x":-1.473,"y":-0.396},{"x":-1.361,"y":-0.43},{"x":-1.261,"y":-0.475},{"x":-1.427,"y":-0.503}],
"UMi":[{"x":-2.243,"y":0.3},{"x":-2.134,"y":0.265},{"x":-2.099,"y":0.236},{"x":-2.134,"y":0.223},{"x":-2.178,"y":0.189},{"x":-1.493,"y":0.303},{"x":-2.378,"y":0.134},{"x":-2.248,"y":0.132},{"x":-2.051,"y":0.136},{"x":-1.997,"y":0.155},{"x":-1.96,"y":0.161},{"x":-1.982,"y":0.112},{"x":-1.428,"y":0.111},{"x":-1.986,"y":0.065},{"x":-1.844,"y":0.069},{"x":-1.951,"y":0.002},{"x":-1.986,"y":-0.011},{"x":-1.892,"y":-0.023},{"x":-1.831,"y":-0.008},{"x":-1.742,"y":0.005},{"x":-1.844,"y":-0.084},{"x":-1.766,"y":-0.12},{"x":-1.546,"y":-0.112},{"x":-1.591,"y":-0.183},{"x":-1.24,"y":-0.515}],
"Bootes":[{"x":-2.32,"y":0.22},{"x":-2.13,"y":0.044},{"x":-1.92,"y":-0.088}]
},
"concat":[
{"width":298,"height":551,"data":{"values":[]},"mark":"point"},
{"width":298,"height":551,"data":{"values":[]},"mark":"point"},
{"width":298,"height":551,"resolve":{"axis":{"x":"independent","y":"independent"}},"layer":[
{"data":{"name":"hex"},"mark":{"type":"point","shape":"M0,-0.55L0.69,-0.27L0.69,0.27L0,0.55L-0.69,0.27L-0.69,-0.27Z","filled":true,"size":400,"opacity":1},"encoding":{"x":{"field":"x","type":"quantitative","scale":{"domain":[-2.55,0.6],"nice":false,"range":[0,775]},"axis":{"orient":"bottom","values":[-2.4,-1.8,-1.2,-0.6,0,0.6],"format":".1f","title":null,"tickSize":-19,"labelPadding":34}},"y":{"field":"y","type":"quantitative","scale":{"domain":[-0.6,0.8],"nice":false},"axis":{"orient":"left","values":[-0.5,-0.25,0,0.25,0.5,0.75],"format":".2f","title":null,"tickSize":-21,"labelPadding":39,"labelOffset":3}},"color":{"field":"n","type":"quantitative","scale":{"type":"log","domain":[1,1000],"range":["#ffffff","#000000"]},"legend":{"type":"gradient","orient":"none","legendX":2768,"legendY":332,"direction":"vertical","gradientLength":2346,"gradientThickness":117,"title":null,"values":[1,10,100,1000],"labelExpr":"datum.value==1?'10⁰':datum.value==10?'10¹':datum.value==100?'10²':'10³'","labelFont":"DejaVu Sans Mono","labelFontSize":40,"labelColor":"black","padding":0,"labelOffset":10,"gradientStrokeColor":"#333333","gradientStrokeWidth":1}}}},
{"data":{"name":"mx"},"mark":{"type":"rule","color":"black","strokeWidth":2},"encoding":{"x":{"field":"v","type":"quantitative","axis":null},"y":{"datum":-0.6,"type":"quantitative","axis":null},"y2":{"datum":-0.575}}},
{"data":{"name":"my"},"mark":{"type":"rule","color":"black","strokeWidth":2},"encoding":{"y":{"field":"v","type":"quantitative","axis":null},"x":{"datum":-2.55,"type":"quantitative","axis":null},"x2":{"datum":-2.51}}},
{"data":{"name":"GES"},"mark":{"type":"point","filled":true,"size":256,"fill":"#D8BFD8","opacity":0.8,"stroke":"black","strokeWidth":1.2},"encoding":{"x":{"field":"x","type":"quantitative","axis":null},"y":{"field":"y","type":"quantitative","axis":null}}},
{"data":{"values":[{"x":0.394,"yl":-0.529,"yh":-0.471}]},"mark":{"type":"rule","color":"#D8BFD8","strokeWidth":2.5},"encoding":{"x":{"field":"x","type":"quantitative","axis":null},"y":{"field":"yl","type":"quantitative","axis":null},"y2":{"field":"yh"}}},
{"data":{"values":[{"y":-0.5,"xl":0.377,"xh":0.411}]},"mark":{"type":"rule","color":"#D8BFD8","strokeWidth":2.5},"encoding":{"y":{"field":"y","type":"quantitative","axis":null},"x":{"field":"xl","type":"quantitative","axis":null},"x2":{"field":"xh"}}},
{"data":{"values":[{"x":0.394,"y":-0.529},{"x":0.394,"y":-0.471}]},"mark":{"type":"tick","orient":"horizontal","color":"#D8BFD8","size":9,"thickness":2.5,"opacity":1},"encoding":{"x":{"field":"x","type":"quantitative","axis":null},"y":{"field":"y","type":"quantitative","axis":null}}},
{"data":{"values":[{"x":0.377,"y":-0.5},{"x":0.411,"y":-0.5}]},"mark":{"type":"tick","orient":"vertical","color":"#D8BFD8","size":9,"thickness":2.5,"opacity":1},"encoding":{"x":{"field":"x","type":"quantitative","axis":null},"y":{"field":"y","type":"quantitative","axis":null}}},
{"data":{"values":[{}]},"mark":{"type":"rect","fill":"white","fillOpacity":0.8,"stroke":"#cccccc","strokeWidth":2,"cornerRadius":10},"encoding":{"x":{"datum":-0.343,"type":"quantitative","axis":null},"x2":{"datum":0.454},"y":{"datum":0.709,"type":"quantitative","axis":null},"y2":{"datum":0.516}}},
{"data":{"values":[{}]},"mark":{"type":"point","filled":true,"size":1225,"fill":"#D8BFD8","opacity":1},"encoding":{"x":{"datum":-0.402,"type":"quantitative","axis":null},"y":{"datum":0.631,"type":"quantitative","axis":null}}},
{"data":{"values":[{}]},"mark":{"type":"text","text":"GE/S","font":"DejaVu Sans Mono","fontSize":68,"align":"right","baseline":"alphabetic","color":"black"},"encoding":{"x":{"datum":0.401,"type":"quantitative","axis":null},"y":{"datum":0.565,"type":"quantitative","axis":null}}},
{"data":{"values":[{}]},"mark":{"type":"rect","fill":"transparent","stroke":"black","strokeWidth":3},"encoding":{"x":{"datum":-2.55,"type":"quantitative","axis":null},"x2":{"datum":0.6},"y":{"datum":-0.6,"type":"quantitative","axis":null},"y2":{"datum":0.8}}}
]},
{"width":298,"height":551,"data":{"values":[]},"mark":"point"},
{"width":298,"height":551,"data":{"values":[]},"mark":"point"},
{"width":298,"height":551,"resolve":{"axis":{"x":"independent","y":"independent"}},"layer":[
{"data":{"name":"hex"},"mark":{"type":"point","shape":"M0,-0.55L0.69,-0.27L0.69,0.27L0,0.55L-0.69,0.27L-0.69,-0.27Z","filled":true,"size":400,"opacity":1},"encoding":{"x":{"field":"x","type":"quantitative","scale":{"domain":[-2.55,0.6],"nice":false,"range":[0,775]},"axis":{"orient":"bottom","values":[-2.4,-1.8,-1.2,-0.6,0,0.6],"format":".1f","title":null,"tickSize":-19,"labelPadding":34}},"y":{"field":"y","type":"quantitative","scale":{"domain":[-0.6,0.8],"nice":false},"axis":{"orient":"left","values":[-0.5,-0.25,0,0.25,0.5,0.75],"format":".2f","title":null,"tickSize":-21,"labelPadding":39,"labelOffset":3}},"color":{"field":"n","type":"quantitative","scale":{"type":"log","domain":[1,1000],"range":["#ffffff","#000000"]},"legend":null}}},
{"data":{"name":"mx"},"mark":{"type":"rule","color":"black","strokeWidth":2},"encoding":{"x":{"field":"v","type":"quantitative","axis":null},"y":{"datum":-0.6,"type":"quantitative","axis":null},"y2":{"datum":-0.575}}},
{"data":{"name":"my"},"mark":{"type":"rule","color":"black","strokeWidth":2},"encoding":{"y":{"field":"v","type":"quantitative","axis":null},"x":{"datum":-2.55,"type":"quantitative","axis":null},"x2":{"datum":-2.51}}},
{"data":{"name":"LMC"},"mark":{"type":"point","filled":true,"size":144,"fill":"#00BFFF","opacity":0.8,"stroke":"black","strokeWidth":1.2},"encoding":{"x":{"field":"x","type":"quantitative","axis":null},"y":{"field":"y","type":"quantitative","axis":null}}},
{"data":{"values":[{"x":0.398,"yl":-0.524,"yh":-0.476}]},"mark":{"type":"rule","color":"#00BFFF","strokeWidth":2.5},"encoding":{"x":{"field":"x","type":"quantitative","axis":null},"y":{"field":"yl","type":"quantitative","axis":null},"y2":{"field":"yh"}}},
{"data":{"values":[{"y":-0.5,"xl":0.383,"xh":0.413}]},"mark":{"type":"rule","color":"#00BFFF","strokeWidth":2.5},"encoding":{"y":{"field":"y","type":"quantitative","axis":null},"x":{"field":"xl","type":"quantitative","axis":null},"x2":{"field":"xh"}}},
{"data":{"values":[{"x":0.398,"y":-0.524},{"x":0.398,"y":-0.476}]},"mark":{"type":"tick","orient":"horizontal","color":"#00BFFF","size":9,"thickness":2.5,"opacity":1},"encoding":{"x":{"field":"x","type":"quantitative","axis":null},"y":{"field":"y","type":"quantitative","axis":null}}},
{"data":{"values":[{"x":0.383,"y":-0.5},{"x":0.413,"y":-0.5}]},"mark":{"type":"tick","orient":"vertical","color":"#00BFFF","size":9,"thickness":2.5,"opacity":1},"encoding":{"x":{"field":"x","type":"quantitative","axis":null},"y":{"field":"y","type":"quantitative","axis":null}}},
{"data":{"values":[{}]},"mark":{"type":"rect","fill":"white","fillOpacity":0.8,"stroke":"#cccccc","strokeWidth":2,"cornerRadius":10},"encoding":{"x":{"datum":-0.172,"type":"quantitative","axis":null},"x2":{"datum":0.454},"y":{"datum":0.709,"type":"quantitative","axis":null},"y2":{"datum":0.516}}},
{"data":{"values":[{}]},"mark":{"type":"point","filled":true,"size":1225,"fill":"#00BFFF","opacity":1},"encoding":{"x":{"datum":-0.231,"type":"quantitative","axis":null},"y":{"datum":0.631,"type":"quantitative","axis":null}}},
{"data":{"values":[{}]},"mark":{"type":"text","text":"LMC","font":"DejaVu Sans Mono","fontSize":68,"align":"right","baseline":"alphabetic","color":"black"},"encoding":{"x":{"datum":0.401,"type":"quantitative","axis":null},"y":{"datum":0.565,"type":"quantitative","axis":null}}},
{"data":{"values":[{}]},"mark":{"type":"rect","fill":"transparent","stroke":"black","strokeWidth":3},"encoding":{"x":{"datum":-2.55,"type":"quantitative","axis":null},"x2":{"datum":0.6},"y":{"datum":-0.6,"type":"quantitative","axis":null},"y2":{"datum":0.8}}}
]},
{"width":298,"height":551,"data":{"values":[]},"mark":"point"},
{"width":298,"height":551,"resolve":{"axis":{"x":"independent","y":"independent"}},"layer":[
{"data":{"name":"hex"},"mark":{"type":"point","shape":"M0,-0.55L0.69,-0.27L0.69,0.27L0,0.55L-0.69,0.27L-0.69,-0.27Z","filled":true,"size":400,"opacity":1},"encoding":{"x":{"field":"x","type":"quantitative","scale":{"domain":[-2.55,0.6],"nice":false,"range":[0,775]},"axis":{"orient":"bottom","values":[-2.4,-1.8,-1.2,-0.6,0,0.6],"format":".1f","title":null,"tickSize":-19,"labelPadding":34}},"y":{"field":"y","type":"quantitative","scale":{"domain":[-0.6,0.8],"nice":false},"axis":{"orient":"left","values":[-0.5,-0.25,0,0.25,0.5,0.75],"format":".2f","title":null,"tickSize":-21,"labelPadding":39,"labelOffset":3}},"color":{"field":"n","type":"quantitative","scale":{"type":"log","domain":[1,1000],"range":["#ffffff","#000000"]},"legend":null}}},
{"data":{"name":"mx"},"mark":{"type":"rule","color":"black","strokeWidth":2},"encoding":{"x":{"field":"v","type":"quantitative","axis":null},"y":{"datum":-0.6,"type":"quantitative","axis":null},"y2":{"datum":-0.575}}},
{"data":{"name":"my"},"mark":{"type":"rule","color":"black","strokeWidth":2},"encoding":{"y":{"field":"v","type":"quantitative","axis":null},"x":{"datum":-2.55,"type":"quantitative","axis":null},"x2":{"datum":-2.51}}},
{"data":{"name":"SMC"},"mark":{"type":"point","filled":true,"size":144,"fill":"#FF7F50","opacity":0.8,"stroke":"black","strokeWidth":1.2},"encoding":{"x":{"field":"x","type":"quantitative","axis":null},"y":{"field":"y","type":"quantitative","axis":null}}},
{"data":{"values":[{"x":0.398,"yl":-0.529,"yh":-0.471}]},"mark":{"type":"rule","color":"#FF7F50","strokeWidth":2.5},"encoding":{"x":{"field":"x","type":"quantitative","axis":null},"y":{"field":"yl","type":"quantitative","axis":null},"y2":{"field":"yh"}}},
{"data":{"values":[{"y":-0.5,"xl":0.378,"xh":0.418}]},"mark":{"type":"rule","color":"#FF7F50","strokeWidth":2.5},"encoding":{"y":{"field":"y","type":"quantitative","axis":null},"x":{"field":"xl","type":"quantitative","axis":null},"x2":{"field":"xh"}}},
{"data":{"values":[{"x":0.398,"y":-0.529},{"x":0.398,"y":-0.471}]},"mark":{"type":"tick","orient":"horizontal","color":"#FF7F50","size":9,"thickness":2.5,"opacity":1},"encoding":{"x":{"field":"x","type":"quantitative","axis":null},"y":{"field":"y","type":"quantitative","axis":null}}},
{"data":{"values":[{"x":0.378,"y":-0.5},{"x":0.418,"y":-0.5}]},"mark":{"type":"tick","orient":"vertical","color":"#FF7F50","size":9,"thickness":2.5,"opacity":1},"encoding":{"x":{"field":"x","type":"quantitative","axis":null},"y":{"field":"y","type":"quantitative","axis":null}}},
{"data":{"values":[{}]},"mark":{"type":"rect","fill":"white","fillOpacity":0.8,"stroke":"#cccccc","strokeWidth":2,"cornerRadius":10},"encoding":{"x":{"datum":-0.172,"type":"quantitative","axis":null},"x2":{"datum":0.454},"y":{"datum":0.709,"type":"quantitative","axis":null},"y2":{"datum":0.516}}},
{"data":{"values":[{}]},"mark":{"type":"point","filled":true,"size":1225,"fill":"#FF7F50","opacity":1},"encoding":{"x":{"datum":-0.231,"type":"quantitative","axis":null},"y":{"datum":0.631,"type":"quantitative","axis":null}}},
{"data":{"values":[{}]},"mark":{"type":"text","text":"SMC","font":"DejaVu Sans Mono","fontSize":68,"align":"right","baseline":"alphabetic","color":"black"},"encoding":{"x":{"datum":0.401,"type":"quantitative","axis":null},"y":{"datum":0.565,"type":"quantitative","axis":null}}},
{"data":{"values":[{}]},"mark":{"type":"rect","fill":"transparent","stroke":"black","strokeWidth":3},"encoding":{"x":{"datum":-2.55,"type":"quantitative","axis":null},"x2":{"datum":0.6},"y":{"datum":-0.6,"type":"quantitative","axis":null},"y2":{"datum":0.8}}}
]},
{"width":298,"height":551,"data":{"values":[]},"mark":"point"},
{"width":298,"height":551,"resolve":{"axis":{"x":"independent","y":"independent"}},"layer":[
{"data":{"name":"hex"},"mark":{"type":"point","shape":"M0,-0.55L0.69,-0.27L0.69,0.27L0,0.55L-0.69,0.27L-0.69,-0.27Z","filled":true,"size":400,"opacity":1},"encoding":{"x":{"field":"x","type":"quantitative","scale":{"domain":[-2.55,0.6],"nice":false,"range":[0,775]},"axis":{"orient":"bottom","values":[-2.4,-1.8,-1.2,-0.6,0,0.6],"format":".1f","title":null,"tickSize":-19,"labelPadding":34}},"y":{"field":"y","type":"quantitative","scale":{"domain":[-0.6,0.8],"nice":false},"axis":{"orient":"left","values":[-0.5,-0.25,0,0.25,0.5,0.75],"format":".2f","title":null,"tickSize":-21,"labelPadding":39,"labelOffset":3}},"color":{"field":"n","type":"quantitative","scale":{"type":"log","domain":[1,1000],"range":["#ffffff","#000000"]},"legend":null}}},
{"data":{"name":"mx"},"mark":{"type":"rule","color":"black","strokeWidth":2},"encoding":{"x":{"field":"v","type":"quantitative","axis":null},"y":{"datum":-0.6,"type":"quantitative","axis":null},"y2":{"datum":-0.575}}},
{"data":{"name":"my"},"mark":{"type":"rule","color":"black","strokeWidth":2},"encoding":{"y":{"field":"v","type":"quantitative","axis":null},"x":{"datum":-2.55,"type":"quantitative","axis":null},"x2":{"datum":-2.51}}},
{"data":{"name":"Sgr"},"mark":{"type":"point","filled":true,"size":182,"fill":"#0000FF","opacity":0.8,"stroke":"black","strokeWidth":1.2},"encoding":{"x":{"field":"x","type":"quantitative","axis":null},"y":{"field":"y","type":"quantitative","axis":null}}},
{"data":{"values":[{"x":0.398,"yl":-0.521,"yh":-0.479}]},"mark":{"type":"rule","color":"#0000FF","strokeWidth":2.5},"encoding":{"x":{"field":"x","type":"quantitative","axis":null},"y":{"field":"yl","type":"quantitative","axis":null},"y2":{"field":"yh"}}},
{"data":{"values":[{"y":-0.5,"xl":0.381,"xh":0.415}]},"mark":{"type":"rule","color":"#0000FF","strokeWidth":2.5},"encoding":{"y":{"field":"y","type":"quantitative","axis":null},"x":{"field":"xl","type":"quantitative","axis":null},"x2":{"field":"xh"}}},
{"data":{"values":[{"x":0.398,"y":-0.521},{"x":0.398,"y":-0.479}]},"mark":{"type":"tick","orient":"horizontal","color":"#0000FF","size":9,"thickness":2.5,"opacity":1},"encoding":{"x":{"field":"x","type":"quantitative","axis":null},"y":{"field":"y","type":"quantitative","axis":null}}},
{"data":{"values":[{"x":0.381,"y":-0.5},{"x":0.415,"y":-0.5}]},"mark":{"type":"tick","orient":"vertical","color":"#0000FF","size":9,"thickness":2.5,"opacity":1},"encoding":{"x":{"field":"x","type":"quantitative","axis":null},"y":{"field":"y","type":"quantitative","axis":null}}},
{"data":{"values":[{}]},"mark":{"type":"rect","fill":"white","fillOpacity":0.8,"stroke":"#cccccc","strokeWidth":2,"cornerRadius":10},"encoding":{"x":{"datum":-1.022,"type":"quantitative","axis":null},"x2":{"datum":0.454},"y":{"datum":0.709,"type":"quantitative","axis":null},"y2":{"datum":0.516}}},
{"data":{"values":[{}]},"mark":{"type":"point","filled":true,"size":1225,"fill":"#0000FF","opacity":1},"encoding":{"x":{"datum":-1.081,"type":"quantitative","axis":null},"y":{"datum":0.631,"type":"quantitative","axis":null}}},
{"data":{"values":[{}]},"mark":{"type":"text","text":"Sgr dSph","font":"DejaVu Sans Mono","fontSize":68,"align":"right","baseline":"alphabetic","color":"black"},"encoding":{"x":{"datum":0.401,"type":"quantitative","axis":null},"y":{"datum":0.565,"type":"quantitative","axis":null}}},
{"data":{"values":[{}]},"mark":{"type":"rect","fill":"transparent","stroke":"black","strokeWidth":3},"encoding":{"x":{"datum":-2.55,"type":"quantitative","axis":null},"x2":{"datum":0.6},"y":{"datum":-0.6,"type":"quantitative","axis":null},"y2":{"datum":0.8}}}
]},
{"width":298,"height":551,"data":{"values":[]},"mark":"point"},
{"width":298,"height":551,"resolve":{"axis":{"x":"independent","y":"independent"}},"layer":[
{"data":{"name":"hex"},"mark":{"type":"point","shape":"M0,-0.55L0.69,-0.27L0.69,0.27L0,0.55L-0.69,0.27L-0.69,-0.27Z","filled":true,"size":400,"opacity":1},"encoding":{"x":{"field":"x","type":"quantitative","scale":{"domain":[-2.55,0.6],"nice":false,"range":[0,775]},"axis":{"orient":"bottom","values":[-2.4,-1.8,-1.2,-0.6,0,0.6],"format":".1f","title":null,"tickSize":-19,"labelPadding":34}},"y":{"field":"y","type":"quantitative","scale":{"domain":[-0.6,0.8],"nice":false},"axis":{"orient":"left","values":[-0.5,-0.25,0,0.25,0.5,0.75],"format":".2f","title":"[Mg/Fe]","titleX":-611,"titleY":339,"titleFontSize":88,"titleBaseline":"middle","titleAlign":"center","tickSize":-21,"labelPadding":39,"labelOffset":3}},"color":{"field":"n","type":"quantitative","scale":{"type":"log","domain":[1,1000],"range":["#ffffff","#000000"]},"legend":null}}},
{"data":{"name":"mx"},"mark":{"type":"rule","color":"black","strokeWidth":2},"encoding":{"x":{"field":"v","type":"quantitative","axis":null},"y":{"datum":-0.6,"type":"quantitative","axis":null},"y2":{"datum":-0.575}}},
{"data":{"name":"my"},"mark":{"type":"rule","color":"black","strokeWidth":2},"encoding":{"y":{"field":"v","type":"quantitative","axis":null},"x":{"datum":-2.55,"type":"quantitative","axis":null},"x2":{"datum":-2.51}}},
{"data":{"name":"Sculptor"},"mark":{"type":"point","filled":true,"size":400,"fill":"#00FF7F","opacity":0.8,"stroke":"black","strokeWidth":1.2},"encoding":{"x":{"field":"x","type":"quantitative","axis":null},"y":{"field":"y","type":"quantitative","axis":null}}},
{"data":{"values":[{"x":0.398,"yl":-0.538,"yh":-0.462}]},"mark":{"type":"rule","color":"#00FF7F","strokeWidth":2.5},"encoding":{"x":{"field":"x","type":"quantitative","axis":null},"y":{"field":"yl","type":"quantitative","axis":null},"y2":{"field":"yh"}}},
{"data":{"values":[{"y":-0.5,"xl":0.374,"xh":0.422}]},"mark":{"type":"rule","color":"#00FF7F","strokeWidth":2.5},"encoding":{"y":{"field":"y","type":"quantitative","axis":null},"x":{"field":"xl","type":"quantitative","axis":null},"x2":{"field":"xh"}}},
{"data":{"values":[{"x":0.398,"y":-0.538},{"x":0.398,"y":-0.462}]},"mark":{"type":"tick","orient":"horizontal","color":"#00FF7F","size":9,"thickness":2.5,"opacity":1},"encoding":{"x":{"field":"x","type":"quantitative","axis":null},"y":{"field":"y","type":"quantitative","axis":null}}},
{"data":{"values":[{"x":0.374,"y":-0.5},{"x":0.422,"y":-0.5}]},"mark":{"type":"tick","orient":"vertical","color":"#00FF7F","size":9,"thickness":2.5,"opacity":1},"encoding":{"x":{"field":"x","type":"quantitative","axis":null},"y":{"field":"y","type":"quantitative","axis":null}}},
{"data":{"values":[{}]},"mark":{"type":"rect","fill":"white","fillOpacity":0.8,"stroke":"#cccccc","strokeWidth":2,"cornerRadius":10},"encoding":{"x":{"datum":-1.026,"type":"quantitative","axis":null},"x2":{"datum":0.454},"y":{"datum":0.709,"type":"quantitative","axis":null},"y2":{"datum":0.516}}},
{"data":{"values":[{}]},"mark":{"type":"point","filled":true,"size":1225,"fill":"#00FF7F","opacity":1},"encoding":{"x":{"datum":-1.085,"type":"quantitative","axis":null},"y":{"datum":0.631,"type":"quantitative","axis":null}}},
{"data":{"values":[{}]},"mark":{"type":"text","text":"Sculptor","font":"DejaVu Sans Mono","fontSize":68,"align":"right","baseline":"alphabetic","color":"black"},"encoding":{"x":{"datum":0.401,"type":"quantitative","axis":null},"y":{"datum":0.565,"type":"quantitative","axis":null}}},
{"data":{"values":[{}]},"mark":{"type":"rect","fill":"transparent","stroke":"black","strokeWidth":3},"encoding":{"x":{"datum":-2.55,"type":"quantitative","axis":null},"x2":{"datum":0.6},"y":{"datum":-0.6,"type":"quantitative","axis":null},"y2":{"datum":0.8}}}
]},
{"width":298,"height":551,"data":{"values":[]},"mark":"point"},
{"width":298,"height":551,"resolve":{"axis":{"x":"independent","y":"independent"}},"layer":[
{"data":{"name":"hex"},"mark":{"type":"point","shape":"M0,-0.55L0.69,-0.27L0.69,0.27L0,0.55L-0.69,0.27L-0.69,-0.27Z","filled":true,"size":400,"opacity":1},"encoding":{"x":{"field":"x","type":"quantitative","scale":{"domain":[-2.55,0.6],"nice":false,"range":[0,775]},"axis":{"orient":"bottom","values":[-2.4,-1.8,-1.2,-0.6,0,0.6],"format":".1f","title":null,"tickSize":-19,"labelPadding":34}},"y":{"field":"y","type":"quantitative","scale":{"domain":[-0.6,0.8],"nice":false},"axis":{"orient":"left","values":[-0.5,-0.25,0,0.25,0.5,0.75],"format":".2f","title":null,"tickSize":-21,"labelPadding":39,"labelOffset":3}},"color":{"field":"n","type":"quantitative","scale":{"type":"log","domain":[1,1000],"range":["#ffffff","#000000"]},"legend":null}}},
{"data":{"name":"mx"},"mark":{"type":"rule","color":"black","strokeWidth":2},"encoding":{"x":{"field":"v","type":"quantitative","axis":null},"y":{"datum":-0.6,"type":"quantitative","axis":null},"y2":{"datum":-0.575}}},
{"data":{"name":"my"},"mark":{"type":"rule","color":"black","strokeWidth":2},"encoding":{"y":{"field":"v","type":"quantitative","axis":null},"x":{"datum":-2.55,"type":"quantitative","axis":null},"x2":{"datum":-2.51}}},
{"data":{"name":"Fornax"},"mark":{"type":"point","filled":true,"size":400,"fill":"#008080","opacity":0.8,"stroke":"black","strokeWidth":1.2},"encoding":{"x":{"field":"x","type":"quantitative","axis":null},"y":{"field":"y","type":"quantitative","axis":null}}},
{"data":{"values":[{"x":0.394,"yl":-0.531,"yh":-0.469}]},"mark":{"type":"rule","color":"#008080","strokeWidth":2.5},"encoding":{"x":{"field":"x","type":"quantitative","axis":null},"y":{"field":"yl","type":"quantitative","axis":null},"y2":{"field":"yh"}}},
{"data":{"values":[{"y":-0.5,"xl":0.372,"xh":0.416}]},"mark":{"type":"rule","color":"#008080","strokeWidth":2.5},"encoding":{"y":{"field":"y","type":"quantitative","axis":null},"x":{"field":"xl","type":"quantitative","axis":null},"x2":{"field":"xh"}}},
{"data":{"values":[{"x":0.394,"y":-0.531},{"x":0.394,"y":-0.469}]},"mark":{"type":"tick","orient":"horizontal","color":"#008080","size":9,"thickness":2.5,"opacity":1},"encoding":{"x":{"field":"x","type":"quantitative","axis":null},"y":{"field":"y","type":"quantitative","axis":null}}},
{"data":{"values":[{"x":0.372,"y":-0.5},{"x":0.416,"y":-0.5}]},"mark":{"type":"tick","orient":"vertical","color":"#008080","size":9,"thickness":2.5,"opacity":1},"encoding":{"x":{"field":"x","type":"quantitative","axis":null},"y":{"field":"y","type":"quantitative","axis":null}}},
{"data":{"values":[{}]},"mark":{"type":"rect","fill":"white","fillOpacity":0.8,"stroke":"#cccccc","strokeWidth":2,"cornerRadius":10},"encoding":{"x":{"datum":-0.684,"type":"quantitative","axis":null},"x2":{"datum":0.454},"y":{"datum":0.709,"type":"quantitative","axis":null},"y2":{"datum":0.516}}},
{"data":{"values":[{}]},"mark":{"type":"point","filled":true,"size":1225,"fill":"#008080","opacity":1},"encoding":{"x":{"datum":-0.743,"type":"quantitative","axis":null},"y":{"datum":0.631,"type":"quantitative","axis":null}}},
{"data":{"values":[{}]},"mark":{"type":"text","text":"Fornax","font":"DejaVu Sans Mono","fontSize":68,"align":"right","baseline":"alphabetic","color":"black"},"encoding":{"x":{"datum":0.401,"type":"quantitative","axis":null},"y":{"datum":0.565,"type":"quantitative","axis":null}}},
{"data":{"values":[{}]},"mark":{"type":"rect","fill":"transparent","stroke":"black","strokeWidth":3},"encoding":{"x":{"datum":-2.55,"type":"quantitative","axis":null},"x2":{"datum":0.6},"y":{"datum":-0.6,"type":"quantitative","axis":null},"y2":{"datum":0.8}}}
]},
{"width":298,"height":551,"data":{"values":[]},"mark":"point"},
{"width":298,"height":551,"resolve":{"axis":{"x":"independent","y":"independent"}},"layer":[
{"data":{"name":"hex"},"mark":{"type":"point","shape":"M0,-0.55L0.69,-0.27L0.69,0.27L0,0.55L-0.69,0.27L-0.69,-0.27Z","filled":true,"size":400,"opacity":1},"encoding":{"x":{"field":"x","type":"quantitative","scale":{"domain":[-2.55,0.6],"nice":false,"range":[0,775]},"axis":{"orient":"bottom","values":[-2.4,-1.8,-1.2,-0.6,0,0.6],"format":".1f","title":null,"tickSize":-19,"labelPadding":34}},"y":{"field":"y","type":"quantitative","scale":{"domain":[-0.6,0.8],"nice":false},"axis":{"orient":"left","values":[-0.5,-0.25,0,0.25,0.5,0.75],"format":".2f","title":null,"tickSize":-21,"labelPadding":39,"labelOffset":3}},"color":{"field":"n","type":"quantitative","scale":{"type":"log","domain":[1,1000],"range":["#ffffff","#000000"]},"legend":null}}},
{"data":{"name":"mx"},"mark":{"type":"rule","color":"black","strokeWidth":2},"encoding":{"x":{"field":"v","type":"quantitative","axis":null},"y":{"datum":-0.6,"type":"quantitative","axis":null},"y2":{"datum":-0.575}}},
{"data":{"name":"my"},"mark":{"type":"rule","color":"black","strokeWidth":2},"encoding":{"y":{"field":"v","type":"quantitative","axis":null},"x":{"datum":-2.55,"type":"quantitative","axis":null},"x2":{"datum":-2.51}}},
{"data":{"name":"Carina"},"mark":{"type":"point","filled":true,"size":400,"fill":"#DC143C","opacity":0.8,"stroke":"black","strokeWidth":1.2},"encoding":{"x":{"field":"x","type":"quantitative","axis":null},"y":{"field":"y","type":"quantitative","axis":null}}},
{"data":{"values":[{"x":0.398,"yl":-0.54,"yh":-0.46}]},"mark":{"type":"rule","color":"#DC143C","strokeWidth":2.5},"encoding":{"x":{"field":"x","type":"quantitative","axis":null},"y":{"field":"yl","type":"quantitative","axis":null},"y2":{"field":"yh"}}},
{"data":{"values":[{"y":-0.5,"xl":0.375,"xh":0.421}]},"mark":{"type":"rule","color":"#DC143C","strokeWidth":2.5},"encoding":{"y":{"field":"y","type":"quantitative","axis":null},"x":{"field":"xl","type":"quantitative","axis":null},"x2":{"field":"xh"}}},
{"data":{"values":[{"x":0.398,"y":-0.54},{"x":0.398,"y":-0.46}]},"mark":{"type":"tick","orient":"horizontal","color":"#DC143C","size":9,"thickness":2.5,"opacity":1},"encoding":{"x":{"field":"x","type":"quantitative","axis":null},"y":{"field":"y","type":"quantitative","axis":null}}},
{"data":{"values":[{"x":0.375,"y":-0.5},{"x":0.421,"y":-0.5}]},"mark":{"type":"tick","orient":"vertical","color":"#DC143C","size":9,"thickness":2.5,"opacity":1},"encoding":{"x":{"field":"x","type":"quantitative","axis":null},"y":{"field":"y","type":"quantitative","axis":null}}},
{"data":{"values":[{}]},"mark":{"type":"rect","fill":"white","fillOpacity":0.8,"stroke":"#cccccc","strokeWidth":2,"cornerRadius":10},"encoding":{"x":{"datum":-0.684,"type":"quantitative","axis":null},"x2":{"datum":0.454},"y":{"datum":0.709,"type":"quantitative","axis":null},"y2":{"datum":0.516}}},
{"data":{"values":[{}]},"mark":{"type":"point","filled":true,"size":1225,"fill":"#DC143C","opacity":1},"encoding":{"x":{"datum":-0.743,"type":"quantitative","axis":null},"y":{"datum":0.631,"type":"quantitative","axis":null}}},
{"data":{"values":[{}]},"mark":{"type":"text","text":"Carina","font":"DejaVu Sans Mono","fontSize":68,"align":"right","baseline":"alphabetic","color":"black"},"encoding":{"x":{"datum":0.401,"type":"quantitative","axis":null},"y":{"datum":0.565,"type":"quantitative","axis":null}}},
{"data":{"values":[{}]},"mark":{"type":"rect","fill":"transparent","stroke":"black","strokeWidth":3},"encoding":{"x":{"datum":-2.55,"type":"quantitative","axis":null},"x2":{"datum":0.6},"y":{"datum":-0.6,"type":"quantitative","axis":null},"y2":{"datum":0.8}}}
]},
{"width":298,"height":551,"data":{"values":[]},"mark":"point"},
{"width":298,"height":551,"resolve":{"axis":{"x":"independent","y":"independent"}},"layer":[
{"data":{"name":"hex"},"mark":{"type":"point","shape":"M0,-0.55L0.69,-0.27L0.69,0.27L0,0.55L-0.69,0.27L-0.69,-0.27Z","filled":true,"size":400,"opacity":1},"encoding":{"x":{"field":"x","type":"quantitative","scale":{"domain":[-2.55,0.6],"nice":false,"range":[0,775]},"axis":{"orient":"bottom","values":[-2.4,-1.8,-1.2,-0.6,0,0.6],"format":".1f","title":null,"tickSize":-19,"labelPadding":34}},"y":{"field":"y","type":"quantitative","scale":{"domain":[-0.6,0.8],"nice":false},"axis":{"orient":"left","values":[-0.5,-0.25,0,0.25,0.5,0.75],"format":".2f","title":null,"tickSize":-21,"labelPadding":39,"labelOffset":3}},"color":{"field":"n","type":"quantitative","scale":{"type":"log","domain":[1,1000],"range":["#ffffff","#000000"]},"legend":null}}},
{"data":{"name":"mx"},"mark":{"type":"rule","color":"black","strokeWidth":2},"encoding":{"x":{"field":"v","type":"quantitative","axis":null},"y":{"datum":-0.6,"type":"quantitative","axis":null},"y2":{"datum":-0.575}}},
{"data":{"name":"my"},"mark":{"type":"rule","color":"black","strokeWidth":2},"encoding":{"y":{"field":"v","type":"quantitative","axis":null},"x":{"datum":-2.55,"type":"quantitative","axis":null},"x2":{"datum":-2.51}}},
{"data":{"name":"Draco"},"mark":{"type":"point","filled":true,"size":400,"fill":"#00FFFF","opacity":0.8,"stroke":"black","strokeWidth":1.2},"encoding":{"x":{"field":"x","type":"quantitative","axis":null},"y":{"field":"y","type":"quantitative","axis":null}}},
{"data":{"values":[{"x":0.398,"yl":-0.54,"yh":-0.46}]},"mark":{"type":"rule","color":"#00FFFF","strokeWidth":2.5},"encoding":{"x":{"field":"x","type":"quantitative","axis":null},"y":{"field":"yl","type":"quantitative","axis":null},"y2":{"field":"yh"}}},
{"data":{"values":[{"y":-0.5,"xl":0.373,"xh":0.423}]},"mark":{"type":"rule","color":"#00FFFF","strokeWidth":2.5},"encoding":{"y":{"field":"y","type":"quantitative","axis":null},"x":{"field":"xl","type":"quantitative","axis":null},"x2":{"field":"xh"}}},
{"data":{"values":[{"x":0.398,"y":-0.54},{"x":0.398,"y":-0.46}]},"mark":{"type":"tick","orient":"horizontal","color":"#00FFFF","size":9,"thickness":2.5,"opacity":1},"encoding":{"x":{"field":"x","type":"quantitative","axis":null},"y":{"field":"y","type":"quantitative","axis":null}}},
{"data":{"values":[{"x":0.373,"y":-0.5},{"x":0.423,"y":-0.5}]},"mark":{"type":"tick","orient":"vertical","color":"#00FFFF","size":9,"thickness":2.5,"opacity":1},"encoding":{"x":{"field":"x","type":"quantitative","axis":null},"y":{"field":"y","type":"quantitative","axis":null}}},
{"data":{"values":[{}]},"mark":{"type":"rect","fill":"white","fillOpacity":0.8,"stroke":"#cccccc","strokeWidth":2,"cornerRadius":10},"encoding":{"x":{"datum":-0.513,"type":"quantitative","axis":null},"x2":{"datum":0.454},"y":{"datum":0.709,"type":"quantitative","axis":null},"y2":{"datum":0.516}}},
{"data":{"values":[{}]},"mark":{"type":"point","filled":true,"size":1225,"fill":"#00FFFF","opacity":1},"encoding":{"x":{"datum":-0.572,"type":"quantitative","axis":null},"y":{"datum":0.631,"type":"quantitative","axis":null}}},
{"data":{"values":[{}]},"mark":{"type":"text","text":"Draco","font":"DejaVu Sans Mono","fontSize":68,"align":"right","baseline":"alphabetic","color":"black"},"encoding":{"x":{"datum":0.401,"type":"quantitative","axis":null},"y":{"datum":0.565,"type":"quantitative","axis":null}}},
{"data":{"values":[{}]},"mark":{"type":"rect","fill":"transparent","stroke":"black","strokeWidth":3},"encoding":{"x":{"datum":-2.55,"type":"quantitative","axis":null},"x2":{"datum":0.6},"y":{"datum":-0.6,"type":"quantitative","axis":null},"y2":{"datum":0.8}}}
]},
{"width":298,"height":551,"data":{"values":[]},"mark":"point"},
{"width":298,"height":551,"resolve":{"axis":{"x":"independent","y":"independent"}},"layer":[
{"data":{"name":"hex"},"mark":{"type":"point","shape":"M0,-0.55L0.69,-0.27L0.69,0.27L0,0.55L-0.69,0.27L-0.69,-0.27Z","filled":true,"size":400,"opacity":1},"encoding":{"x":{"field":"x","type":"quantitative","scale":{"domain":[-2.55,0.6],"nice":false,"range":[0,775]},"axis":{"orient":"bottom","values":[-2.4,-1.8,-1.2,-0.6,0,0.6],"format":".1f","title":null,"tickSize":-19,"labelPadding":34}},"y":{"field":"y","type":"quantitative","scale":{"domain":[-0.6,0.8],"nice":false},"axis":{"orient":"left","values":[-0.5,-0.25,0,0.25,0.5,0.75],"format":".2f","title":null,"tickSize":-21,"labelPadding":39,"labelOffset":3}},"color":{"field":"n","type":"quantitative","scale":{"type":"log","domain":[1,1000],"range":["#ffffff","#000000"]},"legend":null}}},
{"data":{"name":"mx"},"mark":{"type":"rule","color":"black","strokeWidth":2},"encoding":{"x":{"field":"v","type":"quantitative","axis":null},"y":{"datum":-0.6,"type":"quantitative","axis":null},"y2":{"datum":-0.575}}},
{"data":{"name":"my"},"mark":{"type":"rule","color":"black","strokeWidth":2},"encoding":{"y":{"field":"v","type":"quantitative","axis":null},"x":{"datum":-2.55,"type":"quantitative","axis":null},"x2":{"datum":-2.51}}},
{"data":{"name":"Sextans"},"mark":{"type":"point","filled":true,"size":400,"fill":"#FF00FF","opacity":0.8,"stroke":"black","strokeWidth":1.2},"encoding":{"x":{"field":"x","type":"quantitative","axis":null},"y":{"field":"y","type":"quantitative","axis":null}}},
{"data":{"values":[{"x":0.4,"yl":-0.54,"yh":-0.46}]},"mark":{"type":"rule","color":"#FF00FF","strokeWidth":2.5},"encoding":{"x":{"field":"x","type":"quantitative","axis":null},"y":{"field":"yl","type":"quantitative","axis":null},"y2":{"field":"yh"}}},
{"data":{"values":[{"y":-0.5,"xl":0.375,"xh":0.425}]},"mark":{"type":"rule","color":"#FF00FF","strokeWidth":2.5},"encoding":{"y":{"field":"y","type":"quantitative","axis":null},"x":{"field":"xl","type":"quantitative","axis":null},"x2":{"field":"xh"}}},
{"data":{"values":[{"x":0.4,"y":-0.54},{"x":0.4,"y":-0.46}]},"mark":{"type":"tick","orient":"horizontal","color":"#FF00FF","size":9,"thickness":2.5,"opacity":1},"encoding":{"x":{"field":"x","type":"quantitative","axis":null},"y":{"field":"y","type":"quantitative","axis":null}}},
{"data":{"values":[{"x":0.375,"y":-0.5},{"x":0.425,"y":-0.5}]},"mark":{"type":"tick","orient":"vertical","color":"#FF00FF","size":9,"thickness":2.5,"opacity":1},"encoding":{"x":{"field":"x","type":"quantitative","axis":null},"y":{"field":"y","type":"quantitative","axis":null}}},
{"data":{"values":[{}]},"mark":{"type":"rect","fill":"white","fillOpacity":0.8,"stroke":"#cccccc","strokeWidth":2,"cornerRadius":10},"encoding":{"x":{"datum":-0.851,"type":"quantitative","axis":null},"x2":{"datum":0.454},"y":{"datum":0.709,"type":"quantitative","axis":null},"y2":{"datum":0.516}}},
{"data":{"values":[{}]},"mark":{"type":"point","filled":true,"size":1225,"fill":"#FF00FF","opacity":1},"encoding":{"x":{"datum":-0.91,"type":"quantitative","axis":null},"y":{"datum":0.631,"type":"quantitative","axis":null}}},
{"data":{"values":[{}]},"mark":{"type":"text","text":"Sextans","font":"DejaVu Sans Mono","fontSize":68,"align":"right","baseline":"alphabetic","color":"black"},"encoding":{"x":{"datum":0.401,"type":"quantitative","axis":null},"y":{"datum":0.565,"type":"quantitative","axis":null}}},
{"data":{"values":[{}]},"mark":{"type":"rect","fill":"transparent","stroke":"black","strokeWidth":3},"encoding":{"x":{"datum":-2.55,"type":"quantitative","axis":null},"x2":{"datum":0.6},"y":{"datum":-0.6,"type":"quantitative","axis":null},"y2":{"datum":0.8}}}
]},
{"width":298,"height":551,"data":{"values":[]},"mark":"point"},
{"width":298,"height":551,"resolve":{"axis":{"x":"independent","y":"independent"}},"layer":[
{"data":{"name":"hex"},"mark":{"type":"point","shape":"M0,-0.55L0.69,-0.27L0.69,0.27L0,0.55L-0.69,0.27L-0.69,-0.27Z","filled":true,"size":400,"opacity":1},"encoding":{"x":{"field":"x","type":"quantitative","scale":{"domain":[-2.55,0.6],"nice":false,"range":[0,775]},"axis":{"orient":"bottom","values":[-2.4,-1.8,-1.2,-0.6,0,0.6],"format":".1f","title":"[Fe/H]","titleX":865,"titleY":200,"titleFontSize":85,"titleBaseline":"alphabetic","titleAlign":"center","tickSize":-19,"labelPadding":34}},"y":{"field":"y","type":"quantitative","scale":{"domain":[-0.6,0.8],"nice":false},"axis":{"orient":"left","values":[-0.5,-0.25,0,0.25,0.5,0.75],"format":".2f","title":null,"tickSize":-21,"labelPadding":39,"labelOffset":3}},"color":{"field":"n","type":"quantitative","scale":{"type":"log","domain":[1,1000],"range":["#ffffff","#000000"]},"legend":null}}},
{"data":{"name":"mx"},"mark":{"type":"rule","color":"black","strokeWidth":2},"encoding":{"x":{"field":"v","type":"quantitative","axis":null},"y":{"datum":-0.6,"type":"quantitative","axis":null},"y2":{"datum":-0.575}}},
{"data":{"name":"my"},"mark":{"type":"rule","color":"black","strokeWidth":2},"encoding":{"y":{"field":"v","type":"quantitative","axis":null},"x":{"datum":-2.55,"type":"quantitative","axis":null},"x2":{"datum":-2.51}}},
{"data":{"name":"UMi"},"mark":{"type":"point","filled":true,"size":400,"fill":"#8B4513","opacity":0.8,"stroke":"black","strokeWidth":1.2},"encoding":{"x":{"field":"x","type":"quantitative","axis":null},"y":{"field":"y","type":"quantitative","axis":null}}},
{"data":{"values":[{"x":0.398,"yl":-0.544,"yh":-0.456}]},"mark":{"type":"rule","color":"#8B4513","strokeWidth":2.5},"encoding":{"x":{"field":"x","type":"quantitative","axis":null},"y":{"field":"yl","type":"quantitative","axis":null},"y2":{"field":"yh"}}},
{"data":{"values":[{"y":-0.5,"xl":0.376,"xh":0.42}]},"mark":{"type":"rule","color":"#8B4513","strokeWidth":2.5},"encoding":{"y":{"field":"y","type":"quantitative","axis":null},"x":{"field":"xl","type":"quantitative","axis":null},"x2":{"field":"xh"}}},
{"data":{"values":[{"x":0.398,"y":-0.544},{"x":0.398,"y":-0.456}]},"mark":{"type":"tick","orient":"horizontal","color":"#8B4513","size":9,"thickness":2.5,"opacity":1},"encoding":{"x":{"field":"x","type":"quantitative","axis":null},"y":{"field":"y","type":"quantitative","axis":null}}},
{"data":{"values":[{"x":0.376,"y":-0.5},{"x":0.42,"y":-0.5}]},"mark":{"type":"tick","orient":"vertical","color":"#8B4513","size":9,"thickness":2.5,"opacity":1},"encoding":{"x":{"field":"x","type":"quantitative","axis":null},"y":{"field":"y","type":"quantitative","axis":null}}},
{"data":{"values":[{}]},"mark":{"type":"rect","fill":"white","fillOpacity":0.8,"stroke":"#cccccc","strokeWidth":2,"cornerRadius":10},"encoding":{"x":{"datum":-1.196,"type":"quantitative","axis":null},"x2":{"datum":0.454},"y":{"datum":0.709,"type":"quantitative","axis":null},"y2":{"datum":0.516}}},
{"data":{"values":[{}]},"mark":{"type":"point","filled":true,"size":1225,"fill":"#8B4513","opacity":1},"encoding":{"x":{"datum":-1.255,"type":"quantitative","axis":null},"y":{"datum":0.631,"type":"quantitative","axis":null}}},
{"data":{"values":[{}]},"mark":{"type":"text","text":"UrsaMinor","font":"DejaVu Sans Mono","fontSize":68,"align":"right","baseline":"alphabetic","color":"black"},"encoding":{"x":{"datum":0.401,"type":"quantitative","axis":null},"y":{"datum":0.565,"type":"quantitative","axis":null}}},
{"data":{"values":[{}]},"mark":{"type":"rect","fill":"transparent","stroke":"black","strokeWidth":3},"encoding":{"x":{"datum":-2.55,"type":"quantitative","axis":null},"x2":{"datum":0.6},"y":{"datum":-0.6,"type":"quantitative","axis":null},"y2":{"datum":0.8}}}
]},
{"width":298,"height":551,"data":{"values":[]},"mark":"point"},
{"width":298,"height":551,"resolve":{"axis":{"x":"independent","y":"independent"}},"layer":[
{"data":{"name":"hex"},"mark":{"type":"point","shape":"M0,-0.55L0.69,-0.27L0.69,0.27L0,0.55L-0.69,0.27L-0.69,-0.27Z","filled":true,"size":400,"opacity":1},"encoding":{"x":{"field":"x","type":"quantitative","scale":{"domain":[-2.55,0.6],"nice":false,"range":[0,775]},"axis":{"orient":"bottom","values":[-2.4,-1.8,-1.2,-0.6,0,0.6],"format":".1f","title":null,"tickSize":-19,"labelPadding":34}},"y":{"field":"y","type":"quantitative","scale":{"domain":[-0.6,0.8],"nice":false},"axis":{"orient":"left","values":[-0.5,-0.25,0,0.25,0.5,0.75],"format":".2f","title":null,"tickSize":-21,"labelPadding":39,"labelOffset":3}},"color":{"field":"n","type":"quantitative","scale":{"type":"log","domain":[1,1000],"range":["#ffffff","#000000"]},"legend":null}}},
{"data":{"name":"mx"},"mark":{"type":"rule","color":"black","strokeWidth":2},"encoding":{"x":{"field":"v","type":"quantitative","axis":null},"y":{"datum":-0.6,"type":"quantitative","axis":null},"y2":{"datum":-0.575}}},
{"data":{"name":"my"},"mark":{"type":"rule","color":"black","strokeWidth":2},"encoding":{"y":{"field":"v","type":"quantitative","axis":null},"x":{"datum":-2.55,"type":"quantitative","axis":null},"x2":{"datum":-2.51}}},
{"data":{"name":"Bootes"},"mark":{"type":"point","filled":true,"size":400,"fill":"#9370DB","opacity":0.8,"stroke":"black","strokeWidth":1.2},"encoding":{"x":{"field":"x","type":"quantitative","axis":null},"y":{"field":"y","type":"quantitative","axis":null}}},
{"data":{"values":[{}]},"mark":{"type":"rect","fill":"white","fillOpacity":0.8,"stroke":"#cccccc","strokeWidth":2,"cornerRadius":10},"encoding":{"x":{"datum":-0.684,"type":"quantitative","axis":null},"x2":{"datum":0.454},"y":{"datum":0.709,"type":"quantitative","axis":null},"y2":{"datum":0.516}}},
{"data":{"values":[{}]},"mark":{"type":"point","filled":true,"size":1225,"fill":"#9370DB","opacity":1},"encoding":{"x":{"datum":-0.743,"type":"quantitative","axis":null},"y":{"datum":0.631,"type":"quantitative","axis":null}}},
{"data":{"values":[{}]},"mark":{"type":"text","text":"Bootes","font":"DejaVu Sans Mono","fontSize":68,"align":"right","baseline":"alphabetic","color":"black"},"encoding":{"x":{"datum":0.401,"type":"quantitative","axis":null},"y":{"datum":0.565,"type":"quantitative","axis":null}}},
{"data":{"values":[{}]},"mark":{"type":"rect","fill":"transparent","stroke":"black","strokeWidth":3},"encoding":{"x":{"datum":-2.55,"type":"quantitative","axis":null},"x2":{"datum":0.6},"y":{"datum":-0.6,"type":"quantitative","axis":null},"y2":{"datum":0.8}}}
]},
{"width":298,"height":551,"data":{"values":[]},"mark":"point"}
]}
